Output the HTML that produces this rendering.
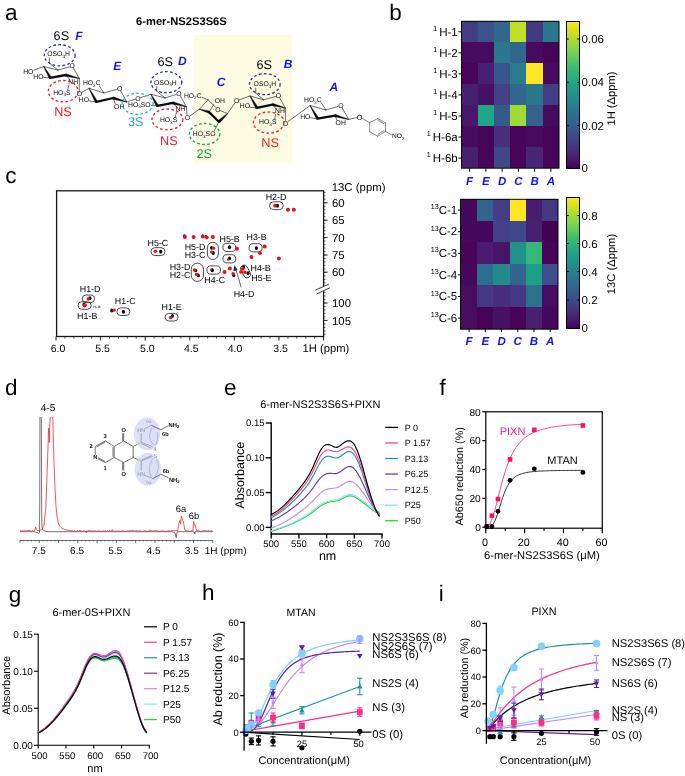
<!DOCTYPE html>
<html lang="en">
<head>
<meta charset="utf-8">
<title>6-mer-NS2S3S6S figure</title>
<style>
html,body{margin:0;padding:0;background:#fff;}
body{width:685px;height:776px;overflow:hidden;}
svg{display:block;font-family:'Liberation Sans', sans-serif;}
svg text{white-space:pre;text-rendering:geometricPrecision;}
</style>
</head>
<body>
<svg width="685" height="776" viewBox="0 0 685 776">
<rect x="0" y="0" width="685" height="776" fill="#fff"/>
<!-- panel_a -->
<g id="panel-a">
<rect x="193.5" y="35" width="99" height="128.5" fill="#fdfbe2"/>
<text x="5" y="19.7" font-size="22.5">a</text>
<text x="181.4" y="25.4" font-size="11.2" text-anchor="middle" font-weight="bold">6-mer-NS2S3S6S</text>
<line x1="58" y1="70.1" x2="69.32" y2="66.83" stroke="#0a0a0a" stroke-width="0.6" stroke-linecap="round"/>
<line x1="73.63" y1="68.52" x2="79.3" y2="78.5" stroke="#0a0a0a" stroke-width="0.6" stroke-linecap="round"/>
<line x1="43.8" y1="66.5" x2="58" y2="70.1" stroke="#0a0a0a" stroke-width="0.6" stroke-linecap="round"/>
<path d="M44.03 66.37 L51.43 77.15 L49.17 78.45 L43.57 66.63 Z" stroke="#0a0a0a" stroke-width="0.3" fill="#0a0a0a" stroke-linejoin="round"/>
<path d="M79.24 78.75 L65.38 76.26 L66.02 73.74 L79.36 78.25 Z" stroke="#0a0a0a" stroke-width="0.3" fill="#0a0a0a" stroke-linejoin="round"/>
<line x1="50.3" y1="77.8" x2="65.7" y2="75" stroke="#0a0a0a" stroke-width="2.3" stroke-linecap="round"/>
<text x="72.2" y="68.45" font-size="6.8" text-anchor="middle" fill="#0a0a0a">O</text>
<line x1="43.8" y1="66.5" x2="33.6" y2="70.2" stroke="#0a0a0a" stroke-width="0.6" stroke-linecap="round"/>
<text x="23.2" y="73.75" font-size="6.8" fill="#0a0a0a">HO</text>
<line x1="50.3" y1="77.8" x2="43.6" y2="77.4" stroke="#0a0a0a" stroke-width="0.6" stroke-linecap="round"/>
<text x="33.3" y="78.75" font-size="6.8" fill="#0a0a0a">HO</text>
<line x1="58" y1="70.1" x2="49.4" y2="63.2" stroke="#0a0a0a" stroke-width="0.6" stroke-linecap="round"/>
<line x1="49.4" y1="63.2" x2="49.4" y2="58" stroke="#0a0a0a" stroke-width="0.6" stroke-linecap="round"/>
<text x="47.3" y="56.25" font-size="6.8" fill="#0a0a0a">OSO<tspan font-size="4.62" dy="1.4">3</tspan><tspan dy="-1.4">H</tspan></text>
<line x1="65.7" y1="75" x2="69.3" y2="79" stroke="#0a0a0a" stroke-width="0.6" stroke-linecap="round"/>
<text x="68.3" y="83.85" font-size="6.8" fill="#0a0a0a">NH</text>
<line x1="69" y1="85" x2="67.6" y2="89.8" stroke="#0a0a0a" stroke-width="0.6" stroke-linecap="round"/>
<text x="53.2" y="94.75" font-size="6.8" fill="#0a0a0a">HO<tspan font-size="4.62" dy="1.4">3</tspan><tspan dy="-1.4">S</tspan></text>
<line x1="79.3" y1="78.5" x2="79.3" y2="91" stroke="#0a0a0a" stroke-width="0.6" stroke-linecap="round"/>
<text x="79.3" y="96.25" font-size="6.8" text-anchor="middle" fill="#0a0a0a">O</text>
<ellipse cx="59.7" cy="55.3" rx="15.4" ry="10.6" fill="none" stroke="#2b2fa0" stroke-width="1.3" stroke-dasharray="2.7 2.3"/>
<ellipse cx="63.2" cy="91.2" rx="14.8" ry="10.7" fill="none" stroke="#ee1c25" stroke-width="1.3" stroke-dasharray="2.7 2.3"/>
<text x="53.6" y="40.2" font-size="12.7">6S</text>
<text x="75.2" y="40.2" font-size="12" fill="#1414f0" font-weight="bold" font-style="italic">F</text>
<text x="63" y="115.7" font-size="12.7" text-anchor="middle" fill="#ee1c25">NS</text>
<line x1="81.74" y1="92.43" x2="89.1" y2="88.3" stroke="#0a0a0a" stroke-width="0.6" stroke-linecap="round"/>
<line x1="103.8" y1="92.9" x2="116.71" y2="89.39" stroke="#0a0a0a" stroke-width="0.6" stroke-linecap="round"/>
<line x1="120.97" y1="91.16" x2="126.7" y2="101.9" stroke="#0a0a0a" stroke-width="0.6" stroke-linecap="round"/>
<line x1="89.1" y1="88.3" x2="103.8" y2="92.9" stroke="#0a0a0a" stroke-width="0.6" stroke-linecap="round"/>
<path d="M89.33 88.18 L97.55 101.29 L95.25 102.51 L88.87 88.42 Z" stroke="#0a0a0a" stroke-width="0.3" fill="#0a0a0a" stroke-linejoin="round"/>
<path d="M126.63 102.15 L112.84 99.25 L113.56 96.75 L126.77 101.65 Z" stroke="#0a0a0a" stroke-width="0.3" fill="#0a0a0a" stroke-linejoin="round"/>
<line x1="96.4" y1="101.9" x2="113.2" y2="98" stroke="#0a0a0a" stroke-width="2.3" stroke-linecap="round"/>
<text x="119.6" y="91.05" font-size="6.8" text-anchor="middle" fill="#0a0a0a">O</text>
<line x1="103.8" y1="92.9" x2="99.4" y2="85.9" stroke="#0a0a0a" stroke-width="0.6" stroke-linecap="round"/>
<text x="82.9" y="85.25" font-size="6.8" fill="#0a0a0a">HO<tspan font-size="4.62" dy="1.4">2</tspan><tspan dy="-1.4">C</tspan></text>
<line x1="96.4" y1="101.9" x2="89.4" y2="101" stroke="#0a0a0a" stroke-width="0.6" stroke-linecap="round"/>
<text x="78.8" y="101.85" font-size="6.8" fill="#0a0a0a">HO</text>
<line x1="113.2" y1="98" x2="115.2" y2="103.6" stroke="#0a0a0a" stroke-width="0.6" stroke-linecap="round"/>
<text x="114.1" y="109.15" font-size="6.8" fill="#0a0a0a">OH</text>
<line x1="126.7" y1="101.9" x2="135.12" y2="99.32" stroke="#0a0a0a" stroke-width="0.6" stroke-linecap="round"/>
<text x="137.8" y="100.95" font-size="6.8" text-anchor="middle" fill="#0a0a0a">O</text>
<text x="113.2" y="69.7" font-size="12" fill="#1414f0" font-weight="bold" font-style="italic">E</text>
<line x1="140.47" y1="97.65" x2="150.9" y2="94.3" stroke="#0a0a0a" stroke-width="0.6" stroke-linecap="round"/>
<line x1="165.1" y1="97.9" x2="176.13" y2="94.49" stroke="#0a0a0a" stroke-width="0.6" stroke-linecap="round"/>
<line x1="180.43" y1="96.12" x2="186.3" y2="106.5" stroke="#0a0a0a" stroke-width="0.6" stroke-linecap="round"/>
<line x1="150.9" y1="94.3" x2="165.1" y2="97.9" stroke="#0a0a0a" stroke-width="0.6" stroke-linecap="round"/>
<path d="M151.13 94.17 L158.53 105.26 L156.27 106.54 L150.67 94.43 Z" stroke="#0a0a0a" stroke-width="0.3" fill="#0a0a0a" stroke-linejoin="round"/>
<path d="M186.23 106.75 L172.47 104.16 L173.13 101.64 L186.37 106.25 Z" stroke="#0a0a0a" stroke-width="0.3" fill="#0a0a0a" stroke-linejoin="round"/>
<line x1="157.4" y1="105.9" x2="172.8" y2="102.9" stroke="#0a0a0a" stroke-width="2.3" stroke-linecap="round"/>
<text x="179" y="96.05" font-size="6.8" text-anchor="middle" fill="#0a0a0a">O</text>
<line x1="165.1" y1="97.9" x2="156.7" y2="91.2" stroke="#0a0a0a" stroke-width="0.6" stroke-linecap="round"/>
<line x1="156.7" y1="91.2" x2="156.7" y2="86.2" stroke="#0a0a0a" stroke-width="0.6" stroke-linecap="round"/>
<text x="154.1" y="84.65" font-size="6.8" fill="#0a0a0a">OSO<tspan font-size="4.62" dy="1.4">3</tspan><tspan dy="-1.4">H</tspan></text>
<line x1="157.4" y1="105.9" x2="151.4" y2="105.4" stroke="#0a0a0a" stroke-width="0.6" stroke-linecap="round"/>
<text x="128" y="106.75" font-size="6.8" fill="#0a0a0a">HO<tspan font-size="4.62" dy="1.4">3</tspan><tspan dy="-1.4">S</tspan>O</text>
<line x1="172.8" y1="102.9" x2="176.6" y2="107" stroke="#0a0a0a" stroke-width="0.6" stroke-linecap="round"/>
<text x="175.4" y="111.25" font-size="6.8" fill="#0a0a0a">NH</text>
<line x1="176.4" y1="112.4" x2="175.1" y2="117.8" stroke="#0a0a0a" stroke-width="0.6" stroke-linecap="round"/>
<text x="159.9" y="122.15" font-size="6.8" fill="#0a0a0a">HO<tspan font-size="4.62" dy="1.4">3</tspan><tspan dy="-1.4">S</tspan></text>
<line x1="186.3" y1="106.5" x2="187.05" y2="115.01" stroke="#0a0a0a" stroke-width="0.6" stroke-linecap="round"/>
<text x="187.3" y="120.25" font-size="6.8" text-anchor="middle" fill="#0a0a0a">O</text>
<ellipse cx="166.4" cy="82.2" rx="15.4" ry="10.6" fill="none" stroke="#2b2fa0" stroke-width="1.3" stroke-dasharray="2.7 2.3"/>
<ellipse cx="137.6" cy="103.8" rx="15.5" ry="10.5" fill="none" stroke="#29abe2" stroke-width="1.3" stroke-dasharray="2.7 2.3"/>
<ellipse cx="167.4" cy="119.4" rx="15.4" ry="10.4" fill="none" stroke="#ee1c25" stroke-width="1.3" stroke-dasharray="2.7 2.3"/>
<text x="157.4" y="65.5" font-size="12.7">6S</text>
<text x="178" y="65" font-size="12" fill="#1414f0" font-weight="bold" font-style="italic">D</text>
<text x="135.8" y="125.6" font-size="12.7" text-anchor="middle" fill="#29abe2">3S</text>
<text x="168.8" y="144.6" font-size="12.7" text-anchor="middle" fill="#ee1c25">NS</text>
<line x1="189.58" y1="116.18" x2="199.4" y2="109.2" stroke="#0a0a0a" stroke-width="0.6" stroke-linecap="round"/>
<line x1="199.4" y1="109.2" x2="208.1" y2="99.8" stroke="#0a0a0a" stroke-width="0.6" stroke-linecap="round"/>
<line x1="202.2" y1="97.4" x2="208.1" y2="99.8" stroke="#0a0a0a" stroke-width="0.6" stroke-linecap="round"/>
<text x="183.9" y="97.95" font-size="6.8" fill="#0a0a0a">HO<tspan font-size="4.62" dy="1.4">2</tspan><tspan dy="-1.4">C</tspan></text>
<line x1="208.1" y1="99.8" x2="215.75" y2="107.45" stroke="#0a0a0a" stroke-width="0.6" stroke-linecap="round"/>
<line x1="220.56" y1="110.67" x2="227.5" y2="113.6" stroke="#0a0a0a" stroke-width="0.6" stroke-linecap="round"/>
<text x="217.8" y="111.95" font-size="6.8" text-anchor="middle" fill="#0a0a0a">O</text>
<path d="M199.47 108.97 L209.44 110.95 L208.76 113.25 L199.33 109.43 Z" stroke="#0a0a0a" stroke-width="0.3" fill="#0a0a0a" stroke-linejoin="round"/>
<line x1="209.1" y1="112.1" x2="218.8" y2="121.8" stroke="#0a0a0a" stroke-width="2.3" stroke-linecap="round"/>
<path d="M227.71 113.82 L219.83 122.89 L217.77 120.71 L227.29 113.38 Z" stroke="#0a0a0a" stroke-width="0.3" fill="#0a0a0a" stroke-linejoin="round"/>
<line x1="209.1" y1="112.1" x2="213.6" y2="104.6" stroke="#0a0a0a" stroke-width="0.6" stroke-linecap="round"/>
<text x="214.7" y="102.65" font-size="6.8" fill="#0a0a0a">OH</text>
<line x1="218.8" y1="121.8" x2="214.4" y2="130.6" stroke="#0a0a0a" stroke-width="0.6" stroke-linecap="round"/>
<text x="192.8" y="136.35" font-size="6.8" fill="#0a0a0a">HO<tspan font-size="4.62" dy="1.4">3</tspan><tspan dy="-1.4">S</tspan>O</text>
<line x1="227.5" y1="113.6" x2="234.93" y2="103.07" stroke="#0a0a0a" stroke-width="0.6" stroke-linecap="round"/>
<text x="236.6" y="103.15" font-size="6.8" text-anchor="middle" fill="#0a0a0a">O</text>
<ellipse cx="204.6" cy="134" rx="15.2" ry="10.5" fill="none" stroke="#0aa550" stroke-width="1.3" stroke-dasharray="2.7 2.3"/>
<text x="216.8" y="85.8" font-size="12" fill="#1414f0" font-weight="bold" font-style="italic">C</text>
<text x="204.3" y="158.1" font-size="12.7" text-anchor="middle" fill="#0aa550">2S</text>
<line x1="239.24" y1="99.78" x2="250.1" y2="96" stroke="#0a0a0a" stroke-width="0.6" stroke-linecap="round"/>
<line x1="263.6" y1="99.8" x2="275.61" y2="96.41" stroke="#0a0a0a" stroke-width="0.6" stroke-linecap="round"/>
<line x1="279.89" y1="98.15" x2="285.3" y2="108.1" stroke="#0a0a0a" stroke-width="0.6" stroke-linecap="round"/>
<line x1="250.1" y1="96" x2="263.6" y2="99.8" stroke="#0a0a0a" stroke-width="0.6" stroke-linecap="round"/>
<path d="M250.33 95.87 L258.03 107.15 L255.77 108.45 L249.87 96.13 Z" stroke="#0a0a0a" stroke-width="0.3" fill="#0a0a0a" stroke-linejoin="round"/>
<path d="M285.23 108.35 L272.06 105.85 L272.74 103.35 L285.37 107.85 Z" stroke="#0a0a0a" stroke-width="0.3" fill="#0a0a0a" stroke-linejoin="round"/>
<line x1="256.9" y1="107.8" x2="272.4" y2="104.6" stroke="#0a0a0a" stroke-width="2.3" stroke-linecap="round"/>
<text x="278.5" y="98.05" font-size="6.8" text-anchor="middle" fill="#0a0a0a">O</text>
<line x1="263.6" y1="99.8" x2="255.7" y2="93.1" stroke="#0a0a0a" stroke-width="0.6" stroke-linecap="round"/>
<line x1="255.7" y1="93.1" x2="255.7" y2="88" stroke="#0a0a0a" stroke-width="0.6" stroke-linecap="round"/>
<text x="253.6" y="86.15" font-size="6.8" fill="#0a0a0a">OSO<tspan font-size="4.62" dy="1.4">3</tspan><tspan dy="-1.4">H</tspan></text>
<line x1="256.9" y1="107.8" x2="250" y2="107.3" stroke="#0a0a0a" stroke-width="0.6" stroke-linecap="round"/>
<text x="239.8" y="108.35" font-size="6.8" fill="#0a0a0a">HO</text>
<line x1="272.4" y1="104.6" x2="276" y2="108.8" stroke="#0a0a0a" stroke-width="0.6" stroke-linecap="round"/>
<text x="275" y="113.45" font-size="6.8" fill="#0a0a0a">NH</text>
<line x1="275.6" y1="114.5" x2="274.6" y2="119.8" stroke="#0a0a0a" stroke-width="0.6" stroke-linecap="round"/>
<text x="259.1" y="124.15" font-size="6.8" fill="#0a0a0a">HO<tspan font-size="4.62" dy="1.4">3</tspan><tspan dy="-1.4">S</tspan></text>
<line x1="285.3" y1="108.1" x2="285.46" y2="120.5" stroke="#0a0a0a" stroke-width="0.6" stroke-linecap="round"/>
<text x="285.5" y="125.75" font-size="6.8" text-anchor="middle" fill="#0a0a0a">O</text>
<ellipse cx="264.8" cy="84.2" rx="15.3" ry="10.5" fill="none" stroke="#2b2fa0" stroke-width="1.3" stroke-dasharray="2.7 2.3"/>
<ellipse cx="268.7" cy="122.6" rx="15.3" ry="10.6" fill="none" stroke="#ee1c25" stroke-width="1.3" stroke-dasharray="2.7 2.3"/>
<text x="256.4" y="68.6" font-size="12.7">6S</text>
<text x="283.8" y="68" font-size="12" fill="#1414f0" font-weight="bold" font-style="italic">B</text>
<text x="270.1" y="147.2" font-size="12.7" text-anchor="middle" fill="#ee1c25">NS</text>
<line x1="287.77" y1="121.66" x2="310.1" y2="105.6" stroke="#0a0a0a" stroke-width="0.6" stroke-linecap="round"/>
<line x1="325.9" y1="109.9" x2="337.92" y2="106.43" stroke="#0a0a0a" stroke-width="0.6" stroke-linecap="round"/>
<line x1="342.24" y1="108.12" x2="348.7" y2="119.4" stroke="#0a0a0a" stroke-width="0.6" stroke-linecap="round"/>
<line x1="310.1" y1="105.6" x2="325.9" y2="109.9" stroke="#0a0a0a" stroke-width="0.6" stroke-linecap="round"/>
<path d="M310.32 105.47 L318.82 118.05 L316.58 119.35 L309.88 105.73 Z" stroke="#0a0a0a" stroke-width="0.3" fill="#0a0a0a" stroke-linejoin="round"/>
<path d="M348.63 119.65 L334.36 116.85 L335.04 114.35 L348.77 119.15 Z" stroke="#0a0a0a" stroke-width="0.3" fill="#0a0a0a" stroke-linejoin="round"/>
<line x1="317.7" y1="118.7" x2="334.7" y2="115.6" stroke="#0a0a0a" stroke-width="2.3" stroke-linecap="round"/>
<text x="340.8" y="108.05" font-size="6.8" text-anchor="middle" fill="#0a0a0a">O</text>
<line x1="325.9" y1="109.9" x2="321.2" y2="102.6" stroke="#0a0a0a" stroke-width="0.6" stroke-linecap="round"/>
<text x="304" y="102.25" font-size="6.8" fill="#0a0a0a">HO<tspan font-size="4.62" dy="1.4">2</tspan><tspan dy="-1.4">C</tspan></text>
<line x1="317.7" y1="118.7" x2="310.6" y2="117.8" stroke="#0a0a0a" stroke-width="0.6" stroke-linecap="round"/>
<text x="300.2" y="118.95" font-size="6.8" fill="#0a0a0a">HO</text>
<line x1="334.7" y1="115.6" x2="337.2" y2="120.6" stroke="#0a0a0a" stroke-width="0.6" stroke-linecap="round"/>
<text x="335.6" y="125.45" font-size="6.8" fill="#0a0a0a">OH</text>
<line x1="348.7" y1="119.4" x2="356.87" y2="117.62" stroke="#0a0a0a" stroke-width="0.6" stroke-linecap="round"/>
<text x="359.7" y="119.66" font-size="7.4" text-anchor="middle" fill="#0a0a0a">O</text>
<line x1="362.32" y1="118.47" x2="369.7" y2="122.6" stroke="#3a3a3a" stroke-width="0.6" stroke-linecap="round"/>
<line x1="369.7" y1="122.6" x2="377.6" y2="118.7" stroke="#3a3a3a" stroke-width="0.6" stroke-linecap="round"/>
<line x1="377.6" y1="118.7" x2="385.5" y2="122.9" stroke="#3a3a3a" stroke-width="0.6" stroke-linecap="round"/>
<line x1="385.5" y1="122.9" x2="385.5" y2="131.3" stroke="#3a3a3a" stroke-width="0.6" stroke-linecap="round"/>
<line x1="385.5" y1="131.3" x2="377.6" y2="136.2" stroke="#3a3a3a" stroke-width="0.6" stroke-linecap="round"/>
<line x1="377.6" y1="136.2" x2="369.7" y2="131.7" stroke="#3a3a3a" stroke-width="0.6" stroke-linecap="round"/>
<line x1="369.7" y1="131.7" x2="369.7" y2="122.6" stroke="#3a3a3a" stroke-width="0.6" stroke-linecap="round"/>
<line x1="378" y1="120.4" x2="384" y2="123.7" stroke="#3a3a3a" stroke-width="0.6" stroke-linecap="round"/>
<line x1="384" y1="130.5" x2="378" y2="134.4" stroke="#3a3a3a" stroke-width="0.6" stroke-linecap="round"/>
<line x1="385.5" y1="131.3" x2="391.4" y2="134.8" stroke="#3a3a3a" stroke-width="0.6" stroke-linecap="round"/>
<text x="392.1" y="138.45" font-size="6.6" fill="#0a0a0a">NO<tspan font-size="4.49" dy="1.4">2</tspan></text>
<text x="329.6" y="91.1" font-size="12" fill="#1414f0" font-weight="bold" font-style="italic">A</text>
</g>
<!-- panel_b -->
<g id="panel-b">
<rect x="462" y="21" width="16" height="21" fill="#433d84"/>
<rect x="478" y="21" width="16" height="21" fill="#3b528b"/>
<rect x="494" y="21" width="16" height="21" fill="#31668e"/>
<rect x="510" y="21" width="16" height="21" fill="#c0df25"/>
<rect x="526" y="21" width="17" height="21" fill="#453882"/>
<rect x="543" y="21" width="16" height="21" fill="#2a788e"/>
<rect x="462" y="42" width="16" height="21" fill="#460b5e"/>
<rect x="478" y="42" width="16" height="21" fill="#460b5e"/>
<rect x="494" y="42" width="16" height="21" fill="#2a788e"/>
<rect x="510" y="42" width="16" height="21" fill="#31668e"/>
<rect x="526" y="42" width="17" height="21" fill="#460b5e"/>
<rect x="543" y="42" width="16" height="21" fill="#450559"/>
<rect x="462" y="63" width="16" height="21" fill="#450559"/>
<rect x="478" y="63" width="16" height="21" fill="#482071"/>
<rect x="494" y="63" width="16" height="21" fill="#39568c"/>
<rect x="510" y="63" width="16" height="21" fill="#287c8e"/>
<rect x="526" y="63" width="17" height="21" fill="#fde725"/>
<rect x="543" y="63" width="16" height="21" fill="#460b5e"/>
<rect x="462" y="84" width="16" height="21" fill="#482071"/>
<rect x="478" y="84" width="16" height="21" fill="#471164"/>
<rect x="494" y="84" width="16" height="21" fill="#424186"/>
<rect x="510" y="84" width="16" height="21" fill="#31668e"/>
<rect x="526" y="84" width="17" height="21" fill="#2a788e"/>
<rect x="543" y="84" width="16" height="21" fill="#433d84"/>
<rect x="462" y="105" width="16" height="21" fill="#481769"/>
<rect x="478" y="105" width="16" height="21" fill="#21a685"/>
<rect x="494" y="105" width="16" height="21" fill="#375a8c"/>
<rect x="510" y="105" width="16" height="21" fill="#a0da39"/>
<rect x="526" y="105" width="17" height="21" fill="#33628d"/>
<rect x="543" y="105" width="16" height="21" fill="#460b5e"/>
<rect x="462" y="126" width="16" height="21" fill="#460b5e"/>
<rect x="478" y="126" width="16" height="21" fill="#450559"/>
<rect x="494" y="126" width="16" height="21" fill="#472f7d"/>
<rect x="510" y="126" width="16" height="21" fill="#450559"/>
<rect x="526" y="126" width="17" height="21" fill="#460b5e"/>
<rect x="543" y="126" width="16" height="21" fill="#450559"/>
<rect x="462" y="147" width="16" height="21" fill="#482071"/>
<rect x="478" y="147" width="16" height="21" fill="#450559"/>
<rect x="494" y="147" width="16" height="21" fill="#404688"/>
<rect x="510" y="147" width="16" height="21" fill="#450559"/>
<rect x="526" y="147" width="17" height="21" fill="#482576"/>
<rect x="543" y="147" width="16" height="21" fill="#450559"/>
<rect x="461.5" y="21.3" width="97.5" height="146.9" fill="none" stroke="#000" stroke-width="1"/>
<line x1="458.5" y1="31.82" x2="461.5" y2="31.82" stroke="#000" stroke-width="1"/>
<text x="457.7" y="35.52" font-size="11.5" text-anchor="end"><tspan font-size="7.2" dy="-4.6">1 </tspan><tspan dy="4.6">H-1</tspan></text>
<line x1="458.5" y1="52.86" x2="461.5" y2="52.86" stroke="#000" stroke-width="1"/>
<text x="457.7" y="56.56" font-size="11.5" text-anchor="end"><tspan font-size="7.2" dy="-4.6">1 </tspan><tspan dy="4.6">H-2</tspan></text>
<line x1="458.5" y1="73.91" x2="461.5" y2="73.91" stroke="#000" stroke-width="1"/>
<text x="457.7" y="77.61" font-size="11.5" text-anchor="end"><tspan font-size="7.2" dy="-4.6">1 </tspan><tspan dy="4.6">H-3</tspan></text>
<line x1="458.5" y1="94.95" x2="461.5" y2="94.95" stroke="#000" stroke-width="1"/>
<text x="457.7" y="98.65" font-size="11.5" text-anchor="end"><tspan font-size="7.2" dy="-4.6">1 </tspan><tspan dy="4.6">H-4</tspan></text>
<line x1="458.5" y1="115.99" x2="461.5" y2="115.99" stroke="#000" stroke-width="1"/>
<text x="457.7" y="119.69" font-size="11.5" text-anchor="end"><tspan font-size="7.2" dy="-4.6">1 </tspan><tspan dy="4.6">H-5</tspan></text>
<line x1="458.5" y1="137.04" x2="461.5" y2="137.04" stroke="#000" stroke-width="1"/>
<text x="457.7" y="140.74" font-size="11.5" text-anchor="end"><tspan font-size="7.2" dy="-4.6">1 </tspan><tspan dy="4.6">H-6a</tspan></text>
<line x1="458.5" y1="158.08" x2="461.5" y2="158.08" stroke="#000" stroke-width="1"/>
<text x="457.7" y="161.78" font-size="11.5" text-anchor="end"><tspan font-size="7.2" dy="-4.6">1 </tspan><tspan dy="4.6">H-6b</tspan></text>
<line x1="469.62" y1="168.3" x2="469.62" y2="171.8" stroke="#000" stroke-width="1"/>
<text x="469.62" y="184.9" font-size="11.5" text-anchor="middle" fill="#1414f0" font-weight="bold" font-style="italic">F</text>
<line x1="485.88" y1="168.3" x2="485.88" y2="171.8" stroke="#000" stroke-width="1"/>
<text x="485.88" y="184.9" font-size="11.5" text-anchor="middle" fill="#1414f0" font-weight="bold" font-style="italic">E</text>
<line x1="502.12" y1="168.3" x2="502.12" y2="171.8" stroke="#000" stroke-width="1"/>
<text x="502.12" y="184.9" font-size="11.5" text-anchor="middle" fill="#1414f0" font-weight="bold" font-style="italic">D</text>
<line x1="518.38" y1="168.3" x2="518.38" y2="171.8" stroke="#000" stroke-width="1"/>
<text x="518.38" y="184.9" font-size="11.5" text-anchor="middle" fill="#1414f0" font-weight="bold" font-style="italic">C</text>
<line x1="534.62" y1="168.3" x2="534.62" y2="171.8" stroke="#000" stroke-width="1"/>
<text x="534.62" y="184.9" font-size="11.5" text-anchor="middle" fill="#1414f0" font-weight="bold" font-style="italic">B</text>
<line x1="550.88" y1="168.3" x2="550.88" y2="171.8" stroke="#000" stroke-width="1"/>
<text x="550.88" y="184.9" font-size="11.5" text-anchor="middle" fill="#1414f0" font-weight="bold" font-style="italic">A</text>
<defs><linearGradient id="g21" x1="0" y1="0" x2="0" y2="1"><stop offset="0" stop-color="#fde725"/><stop offset="0.06" stop-color="#d8e219"/><stop offset="0.12" stop-color="#addc30"/><stop offset="0.19" stop-color="#84d44b"/><stop offset="0.25" stop-color="#5ec962"/><stop offset="0.31" stop-color="#3fbc73"/><stop offset="0.38" stop-color="#28ae80"/><stop offset="0.44" stop-color="#1fa088"/><stop offset="0.5" stop-color="#21918c"/><stop offset="0.56" stop-color="#26828e"/><stop offset="0.62" stop-color="#2c728e"/><stop offset="0.69" stop-color="#33638d"/><stop offset="0.75" stop-color="#3b528b"/><stop offset="0.81" stop-color="#424086"/><stop offset="0.88" stop-color="#472d7b"/><stop offset="0.94" stop-color="#48186a"/><stop offset="1" stop-color="#440154"/></linearGradient></defs>
<rect x="566.5" y="21.5" width="13" height="147" fill="url(#g21)" stroke="#000" stroke-width="1"/>
<line x1="566.5" y1="39" x2="568.7" y2="39" stroke="#000" stroke-width="1"/>
<line x1="577.3" y1="39" x2="579.5" y2="39" stroke="#000" stroke-width="1"/>
<text x="581.6" y="43.1" font-size="11.5">0.06</text>
<line x1="566.5" y1="82.3" x2="568.7" y2="82.3" stroke="#000" stroke-width="1"/>
<line x1="577.3" y1="82.3" x2="579.5" y2="82.3" stroke="#000" stroke-width="1"/>
<text x="581.6" y="86.4" font-size="11.5">0.04</text>
<line x1="566.5" y1="125.6" x2="568.7" y2="125.6" stroke="#000" stroke-width="1"/>
<line x1="577.3" y1="125.6" x2="579.5" y2="125.6" stroke="#000" stroke-width="1"/>
<text x="581.6" y="129.7" font-size="11.5">0.02</text>
<line x1="566.5" y1="167.9" x2="568.7" y2="167.9" stroke="#000" stroke-width="1"/>
<line x1="577.3" y1="167.9" x2="579.5" y2="167.9" stroke="#000" stroke-width="1"/>
<text x="581.6" y="172" font-size="11.5">0</text>
<text x="614.8" y="98.5" font-size="11.2" text-anchor="middle" transform="rotate(-90 614.8 98.5)">1H (Δppm)</text>
<rect x="461" y="199" width="16" height="22" fill="#46085c"/>
<rect x="477" y="199" width="16" height="22" fill="#32658e"/>
<rect x="493" y="199" width="17" height="22" fill="#433e85"/>
<rect x="510" y="199" width="16" height="22" fill="#fde725"/>
<rect x="526" y="199" width="16" height="22" fill="#481c6e"/>
<rect x="542" y="199" width="16" height="22" fill="#453882"/>
<rect x="461" y="221" width="16" height="21" fill="#46085c"/>
<rect x="477" y="221" width="16" height="21" fill="#46085c"/>
<rect x="493" y="221" width="17" height="21" fill="#424186"/>
<rect x="510" y="221" width="16" height="21" fill="#3f4889"/>
<rect x="526" y="221" width="16" height="21" fill="#482071"/>
<rect x="542" y="221" width="16" height="21" fill="#440154"/>
<rect x="461" y="242" width="16" height="22" fill="#450457"/>
<rect x="477" y="242" width="16" height="22" fill="#481c6e"/>
<rect x="493" y="242" width="17" height="22" fill="#481467"/>
<rect x="510" y="242" width="16" height="22" fill="#20928c"/>
<rect x="526" y="242" width="16" height="22" fill="#35b779"/>
<rect x="542" y="242" width="16" height="22" fill="#450457"/>
<rect x="461" y="264" width="16" height="21" fill="#46085c"/>
<rect x="477" y="264" width="16" height="21" fill="#2e6d8e"/>
<rect x="493" y="264" width="17" height="21" fill="#228c8d"/>
<rect x="510" y="264" width="16" height="21" fill="#32658e"/>
<rect x="526" y="264" width="16" height="21" fill="#1f9f88"/>
<rect x="542" y="264" width="16" height="21" fill="#3d4e8a"/>
<rect x="461" y="285" width="16" height="22" fill="#470d60"/>
<rect x="477" y="285" width="16" height="22" fill="#453882"/>
<rect x="493" y="285" width="17" height="22" fill="#472e7c"/>
<rect x="510" y="285" width="16" height="22" fill="#453882"/>
<rect x="526" y="285" width="16" height="22" fill="#2c728e"/>
<rect x="542" y="285" width="16" height="22" fill="#470d60"/>
<rect x="461" y="307" width="16" height="22" fill="#470d60"/>
<rect x="477" y="307" width="16" height="22" fill="#450457"/>
<rect x="493" y="307" width="17" height="22" fill="#471164"/>
<rect x="510" y="307" width="16" height="22" fill="#450457"/>
<rect x="526" y="307" width="16" height="22" fill="#482071"/>
<rect x="542" y="307" width="16" height="22" fill="#46085c"/>
<rect x="460.5" y="199.3" width="97.5" height="129.9" fill="none" stroke="#000" stroke-width="1"/>
<line x1="458" y1="210.1" x2="461" y2="210.1" stroke="#000" stroke-width="1"/>
<text x="457.2" y="213.8" font-size="11.5" text-anchor="end"><tspan font-size="7.2" dy="-4.6">13</tspan><tspan dy="4.6">C-1</tspan></text>
<line x1="458" y1="231.7" x2="461" y2="231.7" stroke="#000" stroke-width="1"/>
<text x="457.2" y="235.4" font-size="11.5" text-anchor="end"><tspan font-size="7.2" dy="-4.6">13</tspan><tspan dy="4.6">C-2</tspan></text>
<line x1="458" y1="253.3" x2="461" y2="253.3" stroke="#000" stroke-width="1"/>
<text x="457.2" y="257" font-size="11.5" text-anchor="end"><tspan font-size="7.2" dy="-4.6">13</tspan><tspan dy="4.6">C-3</tspan></text>
<line x1="458" y1="274.9" x2="461" y2="274.9" stroke="#000" stroke-width="1"/>
<text x="457.2" y="278.6" font-size="11.5" text-anchor="end"><tspan font-size="7.2" dy="-4.6">13</tspan><tspan dy="4.6">C-4</tspan></text>
<line x1="458" y1="296.5" x2="461" y2="296.5" stroke="#000" stroke-width="1"/>
<text x="457.2" y="300.2" font-size="11.5" text-anchor="end"><tspan font-size="7.2" dy="-4.6">13</tspan><tspan dy="4.6">C-5</tspan></text>
<line x1="458" y1="318.1" x2="461" y2="318.1" stroke="#000" stroke-width="1"/>
<text x="457.2" y="321.8" font-size="11.5" text-anchor="end"><tspan font-size="7.2" dy="-4.6">13</tspan><tspan dy="4.6">C-6</tspan></text>
<line x1="469.11" y1="328.6" x2="469.11" y2="332.1" stroke="#000" stroke-width="1"/>
<text x="469.11" y="345" font-size="11.5" text-anchor="middle" fill="#1414f0" font-weight="bold" font-style="italic">F</text>
<line x1="485.32" y1="328.6" x2="485.32" y2="332.1" stroke="#000" stroke-width="1"/>
<text x="485.32" y="345" font-size="11.5" text-anchor="middle" fill="#1414f0" font-weight="bold" font-style="italic">E</text>
<line x1="501.54" y1="328.6" x2="501.54" y2="332.1" stroke="#000" stroke-width="1"/>
<text x="501.54" y="345" font-size="11.5" text-anchor="middle" fill="#1414f0" font-weight="bold" font-style="italic">D</text>
<line x1="517.76" y1="328.6" x2="517.76" y2="332.1" stroke="#000" stroke-width="1"/>
<text x="517.76" y="345" font-size="11.5" text-anchor="middle" fill="#1414f0" font-weight="bold" font-style="italic">C</text>
<line x1="533.97" y1="328.6" x2="533.97" y2="332.1" stroke="#000" stroke-width="1"/>
<text x="533.97" y="345" font-size="11.5" text-anchor="middle" fill="#1414f0" font-weight="bold" font-style="italic">B</text>
<line x1="550.19" y1="328.6" x2="550.19" y2="332.1" stroke="#000" stroke-width="1"/>
<text x="550.19" y="345" font-size="11.5" text-anchor="middle" fill="#1414f0" font-weight="bold" font-style="italic">A</text>
<defs><linearGradient id="g199" x1="0" y1="0" x2="0" y2="1"><stop offset="0" stop-color="#fde725"/><stop offset="0.06" stop-color="#d8e219"/><stop offset="0.12" stop-color="#addc30"/><stop offset="0.19" stop-color="#84d44b"/><stop offset="0.25" stop-color="#5ec962"/><stop offset="0.31" stop-color="#3fbc73"/><stop offset="0.38" stop-color="#28ae80"/><stop offset="0.44" stop-color="#1fa088"/><stop offset="0.5" stop-color="#21918c"/><stop offset="0.56" stop-color="#26828e"/><stop offset="0.62" stop-color="#2c728e"/><stop offset="0.69" stop-color="#33638d"/><stop offset="0.75" stop-color="#3b528b"/><stop offset="0.81" stop-color="#424086"/><stop offset="0.88" stop-color="#472d7b"/><stop offset="0.94" stop-color="#48186a"/><stop offset="1" stop-color="#440154"/></linearGradient></defs>
<rect x="566.5" y="197.5" width="13" height="131" fill="url(#g199)" stroke="#000" stroke-width="1"/>
<line x1="566.5" y1="215.6" x2="568.7" y2="215.6" stroke="#000" stroke-width="1"/>
<line x1="577.3" y1="215.6" x2="579.5" y2="215.6" stroke="#000" stroke-width="1"/>
<text x="581.6" y="219.7" font-size="11.5">0.8</text>
<line x1="566.5" y1="243.6" x2="568.7" y2="243.6" stroke="#000" stroke-width="1"/>
<line x1="577.3" y1="243.6" x2="579.5" y2="243.6" stroke="#000" stroke-width="1"/>
<text x="581.6" y="247.7" font-size="11.5">0.6</text>
<line x1="566.5" y1="271.6" x2="568.7" y2="271.6" stroke="#000" stroke-width="1"/>
<line x1="577.3" y1="271.6" x2="579.5" y2="271.6" stroke="#000" stroke-width="1"/>
<text x="581.6" y="275.7" font-size="11.5">0.4</text>
<line x1="566.5" y1="300" x2="568.7" y2="300" stroke="#000" stroke-width="1"/>
<line x1="577.3" y1="300" x2="579.5" y2="300" stroke="#000" stroke-width="1"/>
<text x="581.6" y="304.1" font-size="11.5">0.2</text>
<line x1="566.5" y1="328" x2="568.7" y2="328" stroke="#000" stroke-width="1"/>
<line x1="577.3" y1="328" x2="579.5" y2="328" stroke="#000" stroke-width="1"/>
<text x="581.6" y="332.1" font-size="11.5">0</text>
<text x="614.8" y="264" font-size="11.2" text-anchor="middle" transform="rotate(-90 614.8 264)">13C (Δppm)</text>
<text x="389.2" y="20" font-size="22.5">b</text>
</g>
<!-- panel_c -->
<g id="panel-c">
<rect x="56.6" y="190.8" width="267" height="145.7" fill="none" stroke="#161616" stroke-width="1.3"/>
<line x1="323.6" y1="336.5" x2="323.6" y2="340.5" stroke="#222" stroke-width="1"/>
<line x1="314.68" y1="336.5" x2="314.68" y2="338.5" stroke="#222" stroke-width="0.8"/>
<line x1="305.76" y1="336.5" x2="305.76" y2="338.5" stroke="#222" stroke-width="0.8"/>
<line x1="296.84" y1="336.5" x2="296.84" y2="338.5" stroke="#222" stroke-width="0.8"/>
<line x1="287.92" y1="336.5" x2="287.92" y2="338.5" stroke="#222" stroke-width="0.8"/>
<line x1="279" y1="336.5" x2="279" y2="340.5" stroke="#222" stroke-width="1"/>
<line x1="270.08" y1="336.5" x2="270.08" y2="338.5" stroke="#222" stroke-width="0.8"/>
<line x1="261.16" y1="336.5" x2="261.16" y2="338.5" stroke="#222" stroke-width="0.8"/>
<line x1="252.24" y1="336.5" x2="252.24" y2="338.5" stroke="#222" stroke-width="0.8"/>
<line x1="243.32" y1="336.5" x2="243.32" y2="338.5" stroke="#222" stroke-width="0.8"/>
<line x1="234.4" y1="336.5" x2="234.4" y2="340.5" stroke="#222" stroke-width="1"/>
<line x1="225.48" y1="336.5" x2="225.48" y2="338.5" stroke="#222" stroke-width="0.8"/>
<line x1="216.56" y1="336.5" x2="216.56" y2="338.5" stroke="#222" stroke-width="0.8"/>
<line x1="207.64" y1="336.5" x2="207.64" y2="338.5" stroke="#222" stroke-width="0.8"/>
<line x1="198.72" y1="336.5" x2="198.72" y2="338.5" stroke="#222" stroke-width="0.8"/>
<line x1="189.8" y1="336.5" x2="189.8" y2="340.5" stroke="#222" stroke-width="1"/>
<line x1="180.88" y1="336.5" x2="180.88" y2="338.5" stroke="#222" stroke-width="0.8"/>
<line x1="171.96" y1="336.5" x2="171.96" y2="338.5" stroke="#222" stroke-width="0.8"/>
<line x1="163.04" y1="336.5" x2="163.04" y2="338.5" stroke="#222" stroke-width="0.8"/>
<line x1="154.12" y1="336.5" x2="154.12" y2="338.5" stroke="#222" stroke-width="0.8"/>
<line x1="145.2" y1="336.5" x2="145.2" y2="340.5" stroke="#222" stroke-width="1"/>
<line x1="136.28" y1="336.5" x2="136.28" y2="338.5" stroke="#222" stroke-width="0.8"/>
<line x1="127.36" y1="336.5" x2="127.36" y2="338.5" stroke="#222" stroke-width="0.8"/>
<line x1="118.44" y1="336.5" x2="118.44" y2="338.5" stroke="#222" stroke-width="0.8"/>
<line x1="109.52" y1="336.5" x2="109.52" y2="338.5" stroke="#222" stroke-width="0.8"/>
<line x1="100.6" y1="336.5" x2="100.6" y2="340.5" stroke="#222" stroke-width="1"/>
<line x1="91.68" y1="336.5" x2="91.68" y2="338.5" stroke="#222" stroke-width="0.8"/>
<line x1="82.76" y1="336.5" x2="82.76" y2="338.5" stroke="#222" stroke-width="0.8"/>
<line x1="73.84" y1="336.5" x2="73.84" y2="338.5" stroke="#222" stroke-width="0.8"/>
<line x1="64.92" y1="336.5" x2="64.92" y2="338.5" stroke="#222" stroke-width="0.8"/>
<line x1="56" y1="336.5" x2="56" y2="340.5" stroke="#222" stroke-width="1"/>
<text x="58" y="351.6" font-size="10.5" text-anchor="middle">6.0</text>
<text x="102.5" y="351.6" font-size="10.5" text-anchor="middle">5.5</text>
<text x="147.4" y="351.6" font-size="10.5" text-anchor="middle">5.0</text>
<text x="191.2" y="351.6" font-size="10.5" text-anchor="middle">4.5</text>
<text x="235" y="351.6" font-size="10.5" text-anchor="middle">4.0</text>
<text x="280.6" y="351.6" font-size="10.5" text-anchor="middle">3.5</text>
<text x="302.6" y="351.6" font-size="11.2">1H (ppm)</text>
<line x1="323.6" y1="202.8" x2="327.6" y2="202.8" stroke="#222" stroke-width="1"/>
<text x="332" y="206.9" font-size="11.4">60</text>
<line x1="323.6" y1="220.2" x2="327.6" y2="220.2" stroke="#222" stroke-width="1"/>
<text x="332" y="224.3" font-size="11.4">65</text>
<line x1="323.6" y1="237.6" x2="327.6" y2="237.6" stroke="#222" stroke-width="1"/>
<text x="332" y="241.7" font-size="11.4">70</text>
<line x1="323.6" y1="255" x2="327.6" y2="255" stroke="#222" stroke-width="1"/>
<text x="332" y="259.1" font-size="11.4">75</text>
<line x1="323.6" y1="272.2" x2="327.6" y2="272.2" stroke="#222" stroke-width="1"/>
<text x="332" y="276.3" font-size="11.4">60</text>
<line x1="323.6" y1="303" x2="327.6" y2="303" stroke="#222" stroke-width="1"/>
<text x="332" y="307.1" font-size="11.4">100</text>
<line x1="323.6" y1="320.4" x2="327.6" y2="320.4" stroke="#222" stroke-width="1"/>
<text x="332" y="324.5" font-size="11.4">105</text>
<line x1="323.6" y1="192.36" x2="325.6" y2="192.36" stroke="#222" stroke-width="0.7"/>
<line x1="323.6" y1="195.84" x2="325.6" y2="195.84" stroke="#222" stroke-width="0.7"/>
<line x1="323.6" y1="199.32" x2="325.6" y2="199.32" stroke="#222" stroke-width="0.7"/>
<line x1="323.6" y1="202.8" x2="325.6" y2="202.8" stroke="#222" stroke-width="0.7"/>
<line x1="323.6" y1="206.28" x2="325.6" y2="206.28" stroke="#222" stroke-width="0.7"/>
<line x1="323.6" y1="209.76" x2="325.6" y2="209.76" stroke="#222" stroke-width="0.7"/>
<line x1="323.6" y1="213.24" x2="325.6" y2="213.24" stroke="#222" stroke-width="0.7"/>
<line x1="323.6" y1="216.72" x2="325.6" y2="216.72" stroke="#222" stroke-width="0.7"/>
<line x1="323.6" y1="220.2" x2="325.6" y2="220.2" stroke="#222" stroke-width="0.7"/>
<line x1="323.6" y1="223.68" x2="325.6" y2="223.68" stroke="#222" stroke-width="0.7"/>
<line x1="323.6" y1="227.16" x2="325.6" y2="227.16" stroke="#222" stroke-width="0.7"/>
<line x1="323.6" y1="230.64" x2="325.6" y2="230.64" stroke="#222" stroke-width="0.7"/>
<line x1="323.6" y1="234.12" x2="325.6" y2="234.12" stroke="#222" stroke-width="0.7"/>
<line x1="323.6" y1="237.6" x2="325.6" y2="237.6" stroke="#222" stroke-width="0.7"/>
<line x1="323.6" y1="241.08" x2="325.6" y2="241.08" stroke="#222" stroke-width="0.7"/>
<line x1="323.6" y1="244.56" x2="325.6" y2="244.56" stroke="#222" stroke-width="0.7"/>
<line x1="323.6" y1="248.04" x2="325.6" y2="248.04" stroke="#222" stroke-width="0.7"/>
<line x1="323.6" y1="251.52" x2="325.6" y2="251.52" stroke="#222" stroke-width="0.7"/>
<line x1="323.6" y1="255" x2="325.6" y2="255" stroke="#222" stroke-width="0.7"/>
<line x1="323.6" y1="258.48" x2="325.6" y2="258.48" stroke="#222" stroke-width="0.7"/>
<line x1="323.6" y1="261.96" x2="325.6" y2="261.96" stroke="#222" stroke-width="0.7"/>
<line x1="323.6" y1="265.44" x2="325.6" y2="265.44" stroke="#222" stroke-width="0.7"/>
<line x1="323.6" y1="268.92" x2="325.6" y2="268.92" stroke="#222" stroke-width="0.7"/>
<line x1="323.6" y1="272.4" x2="325.6" y2="272.4" stroke="#222" stroke-width="0.7"/>
<line x1="323.6" y1="275.88" x2="325.6" y2="275.88" stroke="#222" stroke-width="0.7"/>
<line x1="323.6" y1="279.36" x2="325.6" y2="279.36" stroke="#222" stroke-width="0.7"/>
<line x1="323.6" y1="282.84" x2="325.6" y2="282.84" stroke="#222" stroke-width="0.7"/>
<line x1="323.6" y1="292.56" x2="325.6" y2="292.56" stroke="#222" stroke-width="0.7"/>
<line x1="323.6" y1="296.04" x2="325.6" y2="296.04" stroke="#222" stroke-width="0.7"/>
<line x1="323.6" y1="299.52" x2="325.6" y2="299.52" stroke="#222" stroke-width="0.7"/>
<line x1="323.6" y1="303" x2="325.6" y2="303" stroke="#222" stroke-width="0.7"/>
<line x1="323.6" y1="306.48" x2="325.6" y2="306.48" stroke="#222" stroke-width="0.7"/>
<line x1="323.6" y1="309.96" x2="325.6" y2="309.96" stroke="#222" stroke-width="0.7"/>
<line x1="323.6" y1="313.44" x2="325.6" y2="313.44" stroke="#222" stroke-width="0.7"/>
<line x1="323.6" y1="316.92" x2="325.6" y2="316.92" stroke="#222" stroke-width="0.7"/>
<line x1="323.6" y1="320.4" x2="325.6" y2="320.4" stroke="#222" stroke-width="0.7"/>
<line x1="323.6" y1="323.88" x2="325.6" y2="323.88" stroke="#222" stroke-width="0.7"/>
<line x1="323.6" y1="327.36" x2="325.6" y2="327.36" stroke="#222" stroke-width="0.7"/>
<line x1="323.6" y1="330.84" x2="325.6" y2="330.84" stroke="#222" stroke-width="0.7"/>
<line x1="323.6" y1="334.32" x2="325.6" y2="334.32" stroke="#222" stroke-width="0.7"/>
<rect x="320.6" y="286.2" width="6" height="5" fill="#fff"/>
<line x1="315.4" y1="290.2" x2="329" y2="284" stroke="#222" stroke-width="0.9"/>
<line x1="316.4" y1="294" x2="329.8" y2="287.9" stroke="#222" stroke-width="0.9"/>
<text x="331.7" y="191.3" font-size="11.4">13C (ppm)</text>
<rect x="269.55" y="201.75" width="13.7" height="7.9" rx="3.95" fill="none" stroke="#222" stroke-width="0.8"/>
<rect x="151" y="247.65" width="14" height="7.9" rx="3.95" fill="none" stroke="#222" stroke-width="0.8"/>
<rect x="207.4" y="242.3" width="11" height="17.2" rx="5.5" fill="none" stroke="#222" stroke-width="0.8"/>
<rect x="222.9" y="243.3" width="12.8" height="8.2" rx="4.1" fill="none" stroke="#222" stroke-width="0.8"/>
<rect x="222.9" y="254.7" width="12.8" height="8.2" rx="4.1" fill="none" stroke="#222" stroke-width="0.8"/>
<rect x="249.05" y="243.7" width="13.1" height="8.2" rx="4.1" fill="none" stroke="#222" stroke-width="0.8"/>
<rect x="191.25" y="263.2" width="12.3" height="18.2" rx="6.15" fill="none" stroke="#222" stroke-width="0.8"/>
<rect x="206.85" y="265.9" width="13.7" height="8.2" rx="4.1" fill="none" stroke="#222" stroke-width="0.8"/>
<rect x="242.1" y="264.75" width="7" height="13.5" rx="3.5" fill="none" stroke="#222" stroke-width="0.8" transform="rotate(-28 245.6 271.5)"/>
<rect x="82.25" y="295" width="12.3" height="7.6" rx="3.8" fill="none" stroke="#222" stroke-width="0.8"/>
<rect x="78.05" y="301.7" width="13.1" height="7.6" rx="3.8" fill="none" stroke="#222" stroke-width="0.8"/>
<rect x="116.85" y="307.9" width="13.1" height="7.6" rx="3.8" fill="none" stroke="#222" stroke-width="0.8"/>
<rect x="165.1" y="313.4" width="13" height="7.6" rx="3.8" fill="none" stroke="#222" stroke-width="0.8"/>
<ellipse cx="277.4" cy="205.7" rx="1.61" ry="1.95" fill="#000" stroke="none" stroke-width="0"/>
<ellipse cx="160.7" cy="251.8" rx="1.61" ry="1.95" fill="#000" stroke="none" stroke-width="0"/>
<ellipse cx="211.5" cy="247.8" rx="1.52" ry="1.84" fill="#000" stroke="none" stroke-width="0"/>
<ellipse cx="213.2" cy="253" rx="1.61" ry="1.95" fill="#000" stroke="none" stroke-width="0"/>
<ellipse cx="229.5" cy="247.2" rx="1.61" ry="1.95" fill="#000" stroke="none" stroke-width="0"/>
<ellipse cx="229.5" cy="258.3" rx="1.52" ry="1.84" fill="#000" stroke="none" stroke-width="0"/>
<ellipse cx="256.4" cy="248.1" rx="1.61" ry="1.95" fill="#000" stroke="none" stroke-width="0"/>
<ellipse cx="195.7" cy="270.5" rx="1.52" ry="1.84" fill="#000" stroke="none" stroke-width="0"/>
<ellipse cx="198.3" cy="275.4" rx="1.52" ry="1.84" fill="#000" stroke="none" stroke-width="0"/>
<ellipse cx="212.3" cy="270.2" rx="1.61" ry="1.95" fill="#000" stroke="none" stroke-width="0"/>
<ellipse cx="233.7" cy="275.2" rx="1.52" ry="1.84" fill="#000" stroke="none" stroke-width="0"/>
<ellipse cx="243.6" cy="267" rx="1.52" ry="1.84" fill="#000" stroke="none" stroke-width="0"/>
<ellipse cx="248" cy="273.2" rx="1.52" ry="1.84" fill="#000" stroke="none" stroke-width="0"/>
<ellipse cx="89.9" cy="298.2" rx="1.52" ry="1.84" fill="#000" stroke="none" stroke-width="0"/>
<ellipse cx="84" cy="304.4" rx="1.52" ry="1.84" fill="#000" stroke="none" stroke-width="0"/>
<ellipse cx="123.4" cy="311.7" rx="1.61" ry="1.95" fill="#000" stroke="none" stroke-width="0"/>
<ellipse cx="111.8" cy="310.5" rx="1.61" ry="1.95" fill="#000" stroke="none" stroke-width="0"/>
<ellipse cx="172.5" cy="315.8" rx="1.52" ry="1.84" fill="#000" stroke="none" stroke-width="0"/>
<ellipse cx="184.3" cy="235.9" rx="1.33" ry="1.61" fill="#000" stroke="none" stroke-width="0"/>
<ellipse cx="202.7" cy="235.9" rx="1.33" ry="1.61" fill="#000" stroke="none" stroke-width="0"/>
<ellipse cx="205.9" cy="236.4" rx="1.14" ry="1.38" fill="#000" stroke="none" stroke-width="0"/>
<circle cx="275" cy="205.7" r="1.87" fill="#e8101a"/>
<circle cx="288" cy="209.8" r="1.98" fill="#e8101a"/>
<circle cx="293.9" cy="209.8" r="1.98" fill="#e8101a"/>
<circle cx="184.9" cy="237" r="1.98" fill="#e8101a"/>
<circle cx="193.6" cy="237.1" r="1.98" fill="#e8101a"/>
<circle cx="203" cy="236.7" r="1.87" fill="#e8101a"/>
<circle cx="206.8" cy="237.3" r="1.87" fill="#e8101a"/>
<circle cx="212.9" cy="237.1" r="1.98" fill="#e8101a"/>
<circle cx="155.4" cy="251.3" r="1.76" fill="#e8101a"/>
<circle cx="213.6" cy="248.2" r="1.65" fill="#e8101a"/>
<circle cx="211.4" cy="252" r="1.43" fill="#e8101a"/>
<circle cx="236.9" cy="248.7" r="1.98" fill="#e8101a"/>
<circle cx="228.1" cy="259.7" r="1.1" fill="#e8101a"/>
<circle cx="264.7" cy="246.4" r="1.98" fill="#e8101a"/>
<circle cx="260" cy="253" r="1.98" fill="#e8101a"/>
<circle cx="251.5" cy="257" r="1.98" fill="#e8101a"/>
<circle cx="278.9" cy="258.6" r="1.98" fill="#e8101a"/>
<circle cx="194.5" cy="270" r="1.76" fill="#e8101a"/>
<circle cx="196.6" cy="274.6" r="1.76" fill="#e8101a"/>
<circle cx="210.9" cy="269.6" r="1.1" fill="#e8101a"/>
<circle cx="224.6" cy="272" r="1.98" fill="#e8101a"/>
<circle cx="229.9" cy="268.4" r="1.98" fill="#e8101a"/>
<circle cx="233.2" cy="273.8" r="1.76" fill="#e8101a"/>
<circle cx="241" cy="272" r="1.87" fill="#e8101a"/>
<circle cx="242.8" cy="268.8" r="1.87" fill="#e8101a"/>
<circle cx="244.9" cy="272.3" r="1.76" fill="#e8101a"/>
<circle cx="88.4" cy="298.9" r="1.76" fill="#e8101a"/>
<circle cx="84.8" cy="305.3" r="2.09" fill="#e8101a"/>
<circle cx="114.1" cy="310.2" r="1.65" fill="#e8101a"/>
<circle cx="170.8" cy="317.5" r="1.87" fill="#e8101a"/>
<text x="276" y="199.9" font-size="8.9" text-anchor="middle">H2-D</text>
<text x="157.9" y="246" font-size="8.9" text-anchor="middle">H5-C</text>
<text x="195" y="249.5" font-size="8.9" text-anchor="middle">H5-D</text>
<text x="195" y="258" font-size="8.9" text-anchor="middle">H3-C</text>
<text x="229.6" y="241.6" font-size="8.9" text-anchor="middle">H5-B</text>
<text x="256.6" y="240.4" font-size="8.9" text-anchor="middle">H3-B</text>
<text x="180" y="270.2" font-size="8.9" text-anchor="middle">H3-D</text>
<text x="180" y="278.4" font-size="8.9" text-anchor="middle">H2-C</text>
<text x="214.7" y="282.5" font-size="8.9" text-anchor="middle">H4-C</text>
<text x="260.6" y="270.5" font-size="8.9" text-anchor="middle">H4-B</text>
<text x="261.4" y="280.7" font-size="8.9" text-anchor="middle">H5-E</text>
<text x="244" y="296.5" font-size="8.9" text-anchor="middle">H4-D</text>
<text x="90.1" y="292.1" font-size="8.9" text-anchor="middle">H1-D</text>
<text x="87.2" y="319" font-size="8.9" text-anchor="middle">H1-B</text>
<text x="125.2" y="304.4" font-size="8.9" text-anchor="middle">H1-C</text>
<text x="171.6" y="310.2" font-size="8.9" text-anchor="middle">H1-E</text>
<text x="93.5" y="307.5" font-size="3.2" fill="#222" font-weight="bold">H₁-B</text>
<line x1="241.2" y1="287.3" x2="235.6" y2="268.5" stroke="#222" stroke-width="0.7"/>
<path d="M234.6 265.2 L237.6 270 L233.2 271.2 Z" stroke="none" stroke-width="0" fill="#222"/>
<text x="5.2" y="183" font-size="22.5">c</text>
</g>
<!-- panel_d -->
<g id="panel-d">
<clipPath id="dclip"><rect x="18" y="417" width="198" height="130"/></clipPath>
<path d="M20 531.7 L33 531.7 L36 532.1 L38 532.9 L39 533.5 L39.5 532.9 L39.75 500 L39.95 414 L41.35 414 L41.6 500 L41.9 527 L42.6 529.3 L44 530.8 L47 531.7 L52 531.7 L172 531.7 L174.6 532.3 L175.6 535 L176.2 537.8 L176.7 534 L177.3 531.1 L178.5 531.7 L193.2 531.7 L194.3 532.2 L194.8 534 L195.3 531.4 L196.5 531.7 L212.8 531.7" stroke="#2a2a2a" stroke-width="0.65" fill="none" stroke-linejoin="round" clip-path="url(#dclip)"/>
<path d="M20 530.76 L20.9 530.57 L21.8 531.12 L22.7 530.48 L23.6 530.99 L24.5 530.8 L25.4 530.46 L26.3 530.96 L27.2 530.44 L28.1 530.88 L29 530.48 L29.9 530.5 L30.8 530.87 L31.7 531.31 L32.6 530.54 L33.5 530.65 L34.4 531.09 L35 530 L35.6 526.9 L36.3 529.2 L37.2 530.4 L40 530.3 L42 529.6 L43.2 527.4 L44 525 L45 515.5 L45.9 506 L46.6 487 L47.3 467 L48 447 L48.4 433 L48.75 428.2 L49 432 L49.25 442.5 L49.55 431 L49.9 423 L50.4 414 L52.7 414 L53.1 429 L53.6 448 L54.2 468 L55 488 L56 506.5 L57.2 517.5 L58.4 523.2 L59.8 526.2 L62 528.4 L65.2 529.6 L69 530.4 L73 530.9 L73.6 531.44 L74.5 531.03 L75.4 530.84 L76.3 531.47 L77.2 530.45 L78.1 531.34 L79 530.72 L79.9 530.56 L80.8 530.53 L81.7 530.74 L82.6 531.3 L83.5 530.6 L84.4 531.04 L85.3 531.1 L86.3 532.8 L86.8 530.81 L87.7 531 L88.6 530.47 L89.5 530.47 L90.4 530.63 L91.3 531.15 L92.2 530.87 L93.1 530.75 L94 531.04 L94.9 530.9 L95.8 530.73 L96.7 531.27 L97.6 531.17 L98.5 530.67 L99.4 531.03 L100.3 530.98 L101.2 531.36 L102.1 531.2 L103 530.72 L103.9 531.48 L104.8 530.53 L105.7 530.86 L106.6 531.23 L107.5 530.57 L108.4 530.94 L109.3 530.44 L110.2 531.14 L111.1 531.24 L112.3 529.7 L112.9 531.03 L113.8 531.36 L114.7 530.75 L115.6 531.16 L116.5 531.05 L117.4 531.04 L118.3 530.9 L119.2 531.32 L120.1 531.44 L121 530.92 L121.9 531.13 L122.8 530.47 L123.7 531.17 L124.6 531.11 L125.5 531.49 L126.4 531.3 L127.3 530.71 L128.2 530.82 L129.1 531.14 L130 530.42 L130.9 530.91 L131.8 530.58 L132.7 530.53 L133.6 530.46 L134.5 531.25 L135.4 530.54 L136.3 530.67 L137.2 530.83 L138.1 531.36 L139 530.49 L139.9 530.89 L140.8 531 L141.7 531.37 L142.6 531.3 L143.5 531.35 L144.4 530.71 L145.3 530.86 L146.2 530.79 L147.1 531.37 L148 531.45 L148.9 530.57 L149.8 530.59 L150.7 530.66 L151.6 530.66 L152.5 530.93 L153.4 531.05 L154.3 530.69 L155.2 530.4 L156.1 530.86 L157 530.81 L157.9 531.02 L158.8 531.45 L159.7 531.16 L160.6 530.97 L161.5 531.08 L162.4 531.14 L163.3 530.46 L164.2 531.39 L165.1 531.26 L166 531.36 L166.9 531.28 L167.8 530.83 L168.7 530.84 L169.6 530.51 L170.5 531.1 L171.4 530.47 L172.3 530.47 L173.2 530.63 L174.1 530.58 L175 530.77 L175.9 530.46 L176.8 530.4 L177.6 530.8 L178.2 528 L179 523 L179.9 520.4 L180.3 522.4 L180.6 524.2 L181 519 L181.5 516.2 L182.1 518.5 L182.7 520.6 L183.2 521 L183.9 524.5 L184.6 529 L185.4 530.9 L185.9 530.57 L186.8 530.51 L187.7 530.8 L188.6 530.43 L189.5 531.36 L190.4 531.08 L191.3 530.56 L192.2 530.68 L193 530.9 L193.3 526 L193.7 521.5 L194.2 524 L194.8 525.6 L195.4 525.2 L196 528.5 L196.8 530.9 L197.2 530.78 L198.1 530.8 L199 530.54 L199.9 531.33 L200.8 531.49 L201.7 530.91 L202.6 530.93 L203.5 530.49 L204.4 530.51 L205.3 530.78 L206.2 530.69 L207.1 531.31 L208 530.58 L208.9 530.43 L209.8 531.45 L210.7 530.98 L211.6 530.56 L212.5 531" stroke="#f0202a" stroke-width="0.75" fill="none" stroke-linejoin="round" clip-path="url(#dclip)"/>
<line x1="20" y1="540.5" x2="212.8" y2="540.5" stroke="#222" stroke-width="0.65"/>
<line x1="20" y1="540.2" x2="20" y2="543.1" stroke="#222" stroke-width="0.65"/>
<line x1="23.86" y1="540.5" x2="23.86" y2="541.6" stroke="#333" stroke-width="0.5"/>
<line x1="27.71" y1="540.5" x2="27.71" y2="541.6" stroke="#333" stroke-width="0.5"/>
<line x1="31.57" y1="540.5" x2="31.57" y2="541.6" stroke="#333" stroke-width="0.5"/>
<line x1="35.42" y1="540.5" x2="35.42" y2="541.6" stroke="#333" stroke-width="0.5"/>
<line x1="39.28" y1="540.2" x2="39.28" y2="543.1" stroke="#222" stroke-width="0.65"/>
<line x1="43.14" y1="540.5" x2="43.14" y2="541.6" stroke="#333" stroke-width="0.5"/>
<line x1="46.99" y1="540.5" x2="46.99" y2="541.6" stroke="#333" stroke-width="0.5"/>
<line x1="50.85" y1="540.5" x2="50.85" y2="541.6" stroke="#333" stroke-width="0.5"/>
<line x1="54.7" y1="540.5" x2="54.7" y2="541.6" stroke="#333" stroke-width="0.5"/>
<line x1="58.56" y1="540.2" x2="58.56" y2="543.1" stroke="#222" stroke-width="0.65"/>
<line x1="62.42" y1="540.5" x2="62.42" y2="541.6" stroke="#333" stroke-width="0.5"/>
<line x1="66.27" y1="540.5" x2="66.27" y2="541.6" stroke="#333" stroke-width="0.5"/>
<line x1="70.13" y1="540.5" x2="70.13" y2="541.6" stroke="#333" stroke-width="0.5"/>
<line x1="73.98" y1="540.5" x2="73.98" y2="541.6" stroke="#333" stroke-width="0.5"/>
<line x1="77.84" y1="540.2" x2="77.84" y2="543.1" stroke="#222" stroke-width="0.65"/>
<line x1="81.7" y1="540.5" x2="81.7" y2="541.6" stroke="#333" stroke-width="0.5"/>
<line x1="85.55" y1="540.5" x2="85.55" y2="541.6" stroke="#333" stroke-width="0.5"/>
<line x1="89.41" y1="540.5" x2="89.41" y2="541.6" stroke="#333" stroke-width="0.5"/>
<line x1="93.26" y1="540.5" x2="93.26" y2="541.6" stroke="#333" stroke-width="0.5"/>
<line x1="97.12" y1="540.2" x2="97.12" y2="543.1" stroke="#222" stroke-width="0.65"/>
<line x1="100.98" y1="540.5" x2="100.98" y2="541.6" stroke="#333" stroke-width="0.5"/>
<line x1="104.83" y1="540.5" x2="104.83" y2="541.6" stroke="#333" stroke-width="0.5"/>
<line x1="108.69" y1="540.5" x2="108.69" y2="541.6" stroke="#333" stroke-width="0.5"/>
<line x1="112.54" y1="540.5" x2="112.54" y2="541.6" stroke="#333" stroke-width="0.5"/>
<line x1="116.4" y1="540.2" x2="116.4" y2="543.1" stroke="#222" stroke-width="0.65"/>
<line x1="120.26" y1="540.5" x2="120.26" y2="541.6" stroke="#333" stroke-width="0.5"/>
<line x1="124.11" y1="540.5" x2="124.11" y2="541.6" stroke="#333" stroke-width="0.5"/>
<line x1="127.97" y1="540.5" x2="127.97" y2="541.6" stroke="#333" stroke-width="0.5"/>
<line x1="131.82" y1="540.5" x2="131.82" y2="541.6" stroke="#333" stroke-width="0.5"/>
<line x1="135.68" y1="540.2" x2="135.68" y2="543.1" stroke="#222" stroke-width="0.65"/>
<line x1="139.54" y1="540.5" x2="139.54" y2="541.6" stroke="#333" stroke-width="0.5"/>
<line x1="143.39" y1="540.5" x2="143.39" y2="541.6" stroke="#333" stroke-width="0.5"/>
<line x1="147.25" y1="540.5" x2="147.25" y2="541.6" stroke="#333" stroke-width="0.5"/>
<line x1="151.1" y1="540.5" x2="151.1" y2="541.6" stroke="#333" stroke-width="0.5"/>
<line x1="154.96" y1="540.2" x2="154.96" y2="543.1" stroke="#222" stroke-width="0.65"/>
<line x1="158.82" y1="540.5" x2="158.82" y2="541.6" stroke="#333" stroke-width="0.5"/>
<line x1="162.67" y1="540.5" x2="162.67" y2="541.6" stroke="#333" stroke-width="0.5"/>
<line x1="166.53" y1="540.5" x2="166.53" y2="541.6" stroke="#333" stroke-width="0.5"/>
<line x1="170.38" y1="540.5" x2="170.38" y2="541.6" stroke="#333" stroke-width="0.5"/>
<line x1="174.24" y1="540.2" x2="174.24" y2="543.1" stroke="#222" stroke-width="0.65"/>
<line x1="178.1" y1="540.5" x2="178.1" y2="541.6" stroke="#333" stroke-width="0.5"/>
<line x1="181.95" y1="540.5" x2="181.95" y2="541.6" stroke="#333" stroke-width="0.5"/>
<line x1="185.81" y1="540.5" x2="185.81" y2="541.6" stroke="#333" stroke-width="0.5"/>
<line x1="189.66" y1="540.5" x2="189.66" y2="541.6" stroke="#333" stroke-width="0.5"/>
<line x1="193.52" y1="540.2" x2="193.52" y2="543.1" stroke="#222" stroke-width="0.65"/>
<line x1="197.38" y1="540.5" x2="197.38" y2="541.6" stroke="#333" stroke-width="0.5"/>
<line x1="201.23" y1="540.5" x2="201.23" y2="541.6" stroke="#333" stroke-width="0.5"/>
<line x1="205.09" y1="540.5" x2="205.09" y2="541.6" stroke="#333" stroke-width="0.5"/>
<line x1="208.94" y1="540.5" x2="208.94" y2="541.6" stroke="#333" stroke-width="0.5"/>
<line x1="212.8" y1="540.2" x2="212.8" y2="543.1" stroke="#222" stroke-width="0.65"/>
<text x="38.8" y="553.7" font-size="10" text-anchor="middle">7.5</text>
<text x="77.04" y="553.7" font-size="10" text-anchor="middle">6.5</text>
<text x="115.28" y="553.7" font-size="10" text-anchor="middle">5.5</text>
<text x="153.52" y="553.7" font-size="10" text-anchor="middle">4.5</text>
<text x="191.76" y="553.7" font-size="10" text-anchor="middle">3.5</text>
<text x="204.8" y="553.7" font-size="10">1H (ppm)</text>
<text x="48" y="410.8" font-size="10.2" text-anchor="middle">4-5</text>
<text x="181" y="511.8" font-size="9.4" text-anchor="middle">6a</text>
<text x="193.9" y="519.1" font-size="9.4" text-anchor="middle">6b</text>
<line x1="95.22" y1="446.5" x2="105.44" y2="440.95" stroke="#333" stroke-width="0.7"/>
<line x1="105.44" y1="440.95" x2="114.2" y2="446.5" stroke="#333" stroke-width="0.7"/>
<line x1="114.2" y1="446.5" x2="114.2" y2="457.45" stroke="#333" stroke-width="0.7"/>
<line x1="114.2" y1="457.45" x2="105.44" y2="462.55" stroke="#333" stroke-width="0.7"/>
<line x1="105.44" y1="462.55" x2="97.55" y2="458.76" stroke="#333" stroke-width="0.7"/>
<line x1="95.22" y1="455.26" x2="95.22" y2="446.5" stroke="#333" stroke-width="0.7"/>
<line x1="96.68" y1="446.79" x2="105.15" y2="442.26" stroke="#333" stroke-width="0.7"/>
<line x1="113.03" y1="447.23" x2="113.03" y2="456.72" stroke="#333" stroke-width="0.7"/>
<line x1="97.85" y1="457.59" x2="105.15" y2="461.39" stroke="#333" stroke-width="0.7"/>
<line x1="114.2" y1="446.5" x2="123.69" y2="440.95" stroke="#333" stroke-width="0.7"/>
<line x1="123.69" y1="440.95" x2="133.18" y2="446.5" stroke="#333" stroke-width="0.7"/>
<line x1="133.18" y1="446.5" x2="133.18" y2="457.45" stroke="#333" stroke-width="0.7"/>
<line x1="133.18" y1="457.45" x2="123.69" y2="462.55" stroke="#333" stroke-width="0.7"/>
<line x1="123.69" y1="462.55" x2="114.2" y2="457.45" stroke="#333" stroke-width="0.7"/>
<line x1="123.69" y1="440.95" x2="123.69" y2="433.07" stroke="#333" stroke-width="0.7"/>
<line x1="122.66" y1="440.95" x2="122.66" y2="433.36" stroke="#333" stroke-width="0.7"/>
<line x1="123.69" y1="462.55" x2="123.69" y2="470.58" stroke="#333" stroke-width="0.7"/>
<line x1="122.66" y1="462.55" x2="122.66" y2="470.29" stroke="#333" stroke-width="0.7"/>
<line x1="133.18" y1="446.5" x2="141.2" y2="442.41" stroke="#333" stroke-width="0.7"/>
<line x1="133.18" y1="457.45" x2="141.2" y2="461.09" stroke="#333" stroke-width="0.7"/>
<ellipse cx="147.1" cy="433.8" rx="13.2" ry="16.4" fill="#cfd1f3" stroke="none" stroke-width="0" fill-opacity="0.7"/>
<ellipse cx="147.9" cy="469.4" rx="13.2" ry="16.4" fill="#cfd1f3" stroke="none" stroke-width="0" fill-opacity="0.7"/>
<line x1="141.2" y1="442.41" x2="152.45" y2="446.5" stroke="#8a8ca8" stroke-width="0.7"/>
<line x1="141.64" y1="443.58" x2="151.42" y2="448.25" stroke="#8a8ca8" stroke-width="0.7"/>
<line x1="141.2" y1="461.09" x2="152.45" y2="456.42" stroke="#8a8ca8" stroke-width="0.7"/>
<line x1="141.64" y1="459.93" x2="151.42" y2="455.55" stroke="#8a8ca8" stroke-width="0.7"/>
<line x1="141.2" y1="442.41" x2="141.2" y2="433.36" stroke="#8a8ca8" stroke-width="0.7"/>
<line x1="141.2" y1="461.09" x2="141.2" y2="470.58" stroke="#8a8ca8" stroke-width="0.7"/>
<line x1="145.15" y1="428.69" x2="151.42" y2="425.33" stroke="#8a8ca8" stroke-width="0.7"/>
<line x1="151.42" y1="425.33" x2="160.91" y2="429.71" stroke="#333" stroke-width="0.7"/>
<line x1="160.91" y1="429.71" x2="168.21" y2="425.77" stroke="#333" stroke-width="0.7"/>
<line x1="145.15" y1="475.4" x2="152.88" y2="478.61" stroke="#8a8ca8" stroke-width="0.7"/>
<line x1="152.88" y1="478.61" x2="160.91" y2="474.23" stroke="#333" stroke-width="0.7"/>
<line x1="160.91" y1="474.23" x2="168.5" y2="477.88" stroke="#333" stroke-width="0.7"/>
<path d="M152.15 427.52 Q146.31 437.74 153.61 445.04" stroke="#8a8ca8" stroke-width="0.5" fill="none"/>
<path d="M157.26 431.9 Q158.72 440.66 155.07 445.77" stroke="#8a8ca8" stroke-width="0.5" fill="none"/>
<path d="M152.88 458.18 Q146.31 468.39 151.42 477.15" stroke="#8a8ca8" stroke-width="0.5" fill="none"/>
<path d="M156.53 458.91 Q160.91 468.39 154.78 477.15" stroke="#8a8ca8" stroke-width="0.5" fill="none"/>
<text x="123.69" y="432.48" font-size="5.8" text-anchor="middle" fill="#111" font-weight="bold">O</text>
<text x="123.69" y="475.99" font-size="5.8" text-anchor="middle" fill="#111" font-weight="bold">O</text>
<text x="95.22" y="459.49" font-size="5.8" text-anchor="middle" fill="#111" font-weight="bold">N</text>
<text x="105.15" y="438.32" font-size="5.8" text-anchor="middle" fill="#111" font-weight="bold">3</text>
<text x="91.13" y="447.81" font-size="5.8" text-anchor="middle" fill="#111" font-weight="bold">2</text>
<text x="105.15" y="470.15" font-size="5.8" text-anchor="middle" fill="#111" font-weight="bold">1</text>
<text x="141.2" y="432.19" font-size="5.4" text-anchor="middle" fill="#8a8ca8" font-weight="normal">HN</text>
<text x="141.2" y="475.99" font-size="5.4" text-anchor="middle" fill="#8a8ca8" font-weight="normal">HN</text>
<text x="148.8" y="422.85" font-size="4.8" text-anchor="middle" fill="#9a9cb8" font-weight="normal">6a</text>
<text x="148.8" y="483.72" font-size="4.8" text-anchor="middle" fill="#9a9cb8" font-weight="normal">6a</text>
<text x="154.78" y="450.58" font-size="5.4" text-anchor="middle" fill="#8a8ca8" font-weight="bold">4</text>
<text x="155.36" y="457.74" font-size="5.8" text-anchor="middle" fill="#8a8ca8" font-weight="normal">S</text>
<text x="165.29" y="435.84" font-size="5.6" text-anchor="middle" fill="#111" font-weight="bold">6b</text>
<text x="166.02" y="473.36" font-size="5.6" text-anchor="middle" fill="#111" font-weight="bold">6b</text>
<text x="168.5" y="427.08" font-size="5.8" fill="#111" font-weight="bold">NH<tspan font-size="4" dy="1">2</tspan></text>
<text x="168.94" y="481.82" font-size="5.8" fill="#111" font-weight="bold">NH<tspan font-size="4" dy="1">2</tspan></text>
<text x="5" y="395.4" font-size="22.5">d</text>
</g>
<!-- panel_e -->
<g id="panel-e">
<line x1="271.2" y1="422.3" x2="271.2" y2="534" stroke="#000" stroke-width="1.4"/>
<line x1="270.5" y1="534" x2="382.7" y2="534" stroke="#000" stroke-width="1.4"/>
<line x1="265.7" y1="423" x2="271.2" y2="423" stroke="#000" stroke-width="1.4"/>
<text x="264.5" y="426.42" font-size="9.5" text-anchor="end">0.15</text>
<line x1="265.7" y1="457.8" x2="271.2" y2="457.8" stroke="#000" stroke-width="1.4"/>
<text x="264.5" y="461.22" font-size="9.5" text-anchor="end">0.10</text>
<line x1="265.7" y1="492.6" x2="271.2" y2="492.6" stroke="#000" stroke-width="1.4"/>
<text x="264.5" y="496.02" font-size="9.5" text-anchor="end">0.05</text>
<line x1="265.7" y1="527.4" x2="271.2" y2="527.4" stroke="#000" stroke-width="1.4"/>
<text x="264.5" y="530.82" font-size="9.5" text-anchor="end">0.00</text>
<line x1="271.2" y1="534" x2="271.2" y2="538.5" stroke="#000" stroke-width="1.4"/>
<text x="271.2" y="547.02" font-size="9.5" text-anchor="middle">500</text>
<line x1="298.9" y1="534" x2="298.9" y2="538.5" stroke="#000" stroke-width="1.4"/>
<text x="298.9" y="547.02" font-size="9.5" text-anchor="middle">550</text>
<line x1="326.6" y1="534" x2="326.6" y2="538.5" stroke="#000" stroke-width="1.4"/>
<text x="326.6" y="547.02" font-size="9.5" text-anchor="middle">600</text>
<line x1="354.3" y1="534" x2="354.3" y2="538.5" stroke="#000" stroke-width="1.4"/>
<text x="354.3" y="547.02" font-size="9.5" text-anchor="middle">650</text>
<line x1="382" y1="534" x2="382" y2="538.5" stroke="#000" stroke-width="1.4"/>
<text x="382" y="547.02" font-size="9.5" text-anchor="middle">700</text>
<path d="M271.2 531.37 L272.57 530.98 L273.93 530.58 L275.3 530.16 L276.67 529.72 L278.04 529.27 L279.4 528.81 L280.77 528.32 L282.14 527.82 L283.51 527.3 L284.87 526.77 L286.24 526.23 L287.61 525.66 L288.98 525.09 L290.34 524.49 L291.71 523.88 L293.08 523.26 L294.45 522.62 L295.81 521.97 L297.18 521.3 L298.55 520.62 L299.92 519.92 L301.28 519.21 L302.65 518.47 L304.02 517.71 L305.39 516.93 L306.75 516.11 L308.12 515.26 L309.49 514.37 L310.86 513.45 L312.22 512.47 L313.59 511.46 L314.96 510.4 L316.33 509.33 L317.69 508.27 L319.06 507.24 L320.43 506.25 L321.8 505.34 L323.16 504.52 L324.53 503.79 L325.9 503.17 L327.27 502.67 L328.63 502.28 L330 501.98 L331.37 501.76 L332.74 501.57 L334.1 501.4 L335.47 501.19 L336.84 500.88 L338.21 500.46 L339.57 499.92 L340.94 499.31 L342.31 498.64 L343.68 497.93 L345.04 497.23 L346.41 496.59 L347.78 496.1 L349.15 495.81 L350.51 495.77 L351.88 495.96 L353.25 496.35 L354.62 496.92 L355.98 497.66 L357.35 498.51 L358.72 499.45 L360.09 500.43 L361.45 501.43 L362.82 502.45 L364.19 503.47 L365.56 504.51 L366.92 505.56 L368.29 506.63 L369.66 507.7 L371.03 508.76 L372.39 509.78 L373.76 510.74 L375.13 511.62 L376.5 512.38 L377.86 513.01 L379.23 513.48" stroke="#22dd22" stroke-width="1.15" fill="none" stroke-linejoin="round" stroke-linecap="round"/>
<path d="M271.2 530.74 L272.57 530.31 L273.93 529.87 L275.3 529.42 L276.67 528.97 L278.04 528.51 L279.4 528.05 L280.77 527.57 L282.14 527.09 L283.51 526.59 L284.87 526.07 L286.24 525.55 L287.61 525 L288.98 524.44 L290.34 523.86 L291.71 523.27 L293.08 522.65 L294.45 522 L295.81 521.34 L297.18 520.65 L298.55 519.93 L299.92 519.19 L301.28 518.42 L302.65 517.62 L304.02 516.79 L305.39 515.92 L306.75 515.03 L308.12 514.1 L309.49 513.14 L310.86 512.14 L312.22 511.1 L313.59 510.03 L314.96 508.94 L316.33 507.85 L317.69 506.78 L319.06 505.77 L320.43 504.83 L321.8 504 L323.16 503.26 L324.53 502.62 L325.9 502.05 L327.27 501.55 L328.63 501.1 L330 500.71 L331.37 500.4 L332.74 500.16 L334.1 499.98 L335.47 499.78 L336.84 499.49 L338.21 499.06 L339.57 498.52 L340.94 497.9 L342.31 497.23 L343.68 496.55 L345.04 495.89 L346.41 495.3 L347.78 494.84 L349.15 494.56 L350.51 494.49 L351.88 494.64 L353.25 494.98 L354.62 495.53 L355.98 496.25 L357.35 497.11 L358.72 498.05 L360.09 499.04 L361.45 500.05 L362.82 501.06 L364.19 502.08 L365.56 503.12 L366.92 504.17 L368.29 505.24 L369.66 506.32 L371.03 507.39 L372.39 508.41 L373.76 509.35 L375.13 510.18 L376.5 510.86 L377.86 511.37 L379.23 511.67" stroke="#8cdcff" stroke-width="1.15" fill="none" stroke-linejoin="round" stroke-linecap="round"/>
<path d="M271.2 528.1 L272.57 527.63 L273.93 527.12 L275.3 526.58 L276.67 526.01 L278.04 525.41 L279.4 524.77 L280.77 524.1 L282.14 523.41 L283.51 522.68 L284.87 521.93 L286.24 521.15 L287.61 520.34 L288.98 519.51 L290.34 518.66 L291.71 517.77 L293.08 516.87 L294.45 515.94 L295.81 515 L297.18 514.03 L298.55 513.04 L299.92 512.03 L301.28 511 L302.65 509.95 L304.02 508.86 L305.39 507.74 L306.75 506.58 L308.12 505.38 L309.49 504.14 L310.86 502.84 L312.22 501.49 L313.59 500.08 L314.96 498.63 L316.33 497.18 L317.69 495.75 L319.06 494.4 L320.43 493.14 L321.8 492.01 L323.16 491.04 L324.53 490.23 L325.9 489.59 L327.27 489.12 L328.63 488.82 L330 488.62 L331.37 488.49 L332.74 488.37 L334.1 488.23 L335.47 488.01 L336.84 487.64 L338.21 487.12 L339.57 486.45 L340.94 485.68 L342.31 484.83 L343.68 483.95 L345.04 483.09 L346.41 482.32 L347.78 481.73 L349.15 481.4 L350.51 481.38 L351.88 481.66 L353.25 482.23 L354.62 483.08 L355.98 484.19 L357.35 485.53 L358.72 487.06 L360.09 488.73 L361.45 490.53 L362.82 492.42 L364.19 494.39 L365.56 496.39 L366.92 498.43 L368.29 500.46 L369.66 502.47 L371.03 504.42 L372.39 506.28 L373.76 508 L375.13 509.54 L376.5 510.88 L377.86 511.97 L379.23 512.78" stroke="#c48cff" stroke-width="1.15" fill="none" stroke-linejoin="round" stroke-linecap="round"/>
<path d="M271.2 520.86 L272.57 520.28 L273.93 519.67 L275.3 519.03 L276.67 518.35 L278.04 517.63 L279.4 516.89 L280.77 516.11 L282.14 515.3 L283.51 514.46 L284.87 513.59 L286.24 512.69 L287.61 511.76 L288.98 510.81 L290.34 509.82 L291.71 508.81 L293.08 507.76 L294.45 506.7 L295.81 505.6 L297.18 504.48 L298.55 503.34 L299.92 502.17 L301.28 500.97 L302.65 499.73 L304.02 498.44 L305.39 497.09 L306.75 495.67 L308.12 494.18 L309.49 492.59 L310.86 490.92 L312.22 489.14 L313.59 487.25 L314.96 485.28 L316.33 483.3 L317.69 481.38 L319.06 479.57 L320.43 477.95 L321.8 476.59 L323.16 475.49 L324.53 474.64 L325.9 474.03 L327.27 473.64 L328.63 473.44 L330 473.37 L331.37 473.41 L332.74 473.5 L334.1 473.58 L335.47 473.56 L336.84 473.32 L338.21 472.84 L339.57 472.13 L340.94 471.27 L342.31 470.3 L343.68 469.29 L345.04 468.31 L346.41 467.45 L347.78 466.83 L349.15 466.52 L350.51 466.61 L351.88 467.1 L353.25 467.99 L354.62 469.27 L355.98 470.92 L357.35 472.92 L358.72 475.21 L360.09 477.76 L361.45 480.52 L362.82 483.44 L364.19 486.47 L365.56 489.56 L366.92 492.65 L368.29 495.69 L369.66 498.65 L371.03 501.48 L372.39 504.15 L373.76 506.64 L375.13 508.92 L376.5 510.96 L377.86 512.72 L379.23 514.18" stroke="#6a3daa" stroke-width="1.15" fill="none" stroke-linejoin="round" stroke-linecap="round"/>
<path d="M271.2 517.66 L272.57 516.99 L273.93 516.27 L275.3 515.5 L276.67 514.68 L278.04 513.81 L279.4 512.89 L280.77 511.92 L282.14 510.91 L283.51 509.85 L284.87 508.75 L286.24 507.61 L287.61 506.43 L288.98 505.21 L290.34 503.96 L291.71 502.67 L293.08 501.35 L294.45 500 L295.81 498.61 L297.18 497.2 L298.55 495.76 L299.92 494.29 L301.28 492.78 L302.65 491.23 L304.02 489.6 L305.39 487.89 L306.75 486.08 L308.12 484.16 L309.49 482.11 L310.86 479.91 L312.22 477.55 L313.59 475.01 L314.96 472.35 L316.33 469.65 L317.69 467.01 L319.06 464.5 L320.43 462.23 L321.8 460.27 L323.16 458.68 L324.53 457.48 L325.9 456.67 L327.27 456.26 L328.63 456.22 L330 456.44 L331.37 456.84 L332.74 457.31 L334.1 457.74 L335.47 458 L336.84 457.97 L338.21 457.58 L339.57 456.9 L340.94 456.01 L342.31 455.01 L343.68 453.98 L345.04 453.02 L346.41 452.22 L347.78 451.69 L349.15 451.53 L350.51 451.81 L351.88 452.55 L353.25 453.76 L354.62 455.45 L355.98 457.63 L357.35 460.28 L358.72 463.34 L360.09 466.8 L361.45 470.6 L362.82 474.66 L364.19 478.89 L365.56 483.18 L366.92 487.46 L368.29 491.63 L369.66 495.6 L371.03 499.34 L372.39 502.81 L373.76 505.98 L375.13 508.8 L376.5 511.25 L377.86 513.29 L379.23 514.87" stroke="#1a989c" stroke-width="1.15" fill="none" stroke-linejoin="round" stroke-linecap="round"/>
<path d="M271.2 516.26 L272.57 515.61 L273.93 514.88 L275.3 514.08 L276.67 513.21 L278.04 512.27 L279.4 511.27 L280.77 510.2 L282.14 509.08 L283.51 507.91 L284.87 506.68 L286.24 505.41 L287.61 504.09 L288.98 502.73 L290.34 501.33 L291.71 499.89 L293.08 498.43 L294.45 496.93 L295.81 495.41 L297.18 493.87 L298.55 492.31 L299.92 490.73 L301.28 489.12 L302.65 487.46 L304.02 485.73 L305.39 483.91 L306.75 481.98 L308.12 479.92 L309.49 477.71 L310.86 475.33 L312.22 472.76 L313.59 469.99 L314.96 467.06 L316.33 464.09 L317.69 461.19 L319.06 458.46 L320.43 456.02 L321.8 453.96 L323.16 452.34 L324.53 451.15 L325.9 450.38 L327.27 450.02 L328.63 450 L330 450.24 L331.37 450.61 L332.74 451.01 L334.1 451.35 L335.47 451.54 L336.84 451.51 L338.21 451.2 L339.57 450.68 L340.94 450.02 L342.31 449.27 L343.68 448.5 L345.04 447.79 L346.41 447.23 L347.78 446.91 L349.15 446.91 L350.51 447.32 L351.88 448.17 L353.25 449.49 L354.62 451.31 L355.98 453.64 L357.35 456.45 L358.72 459.7 L360.09 463.35 L361.45 467.35 L362.82 471.61 L364.19 476.05 L365.56 480.58 L366.92 485.12 L368.29 489.57 L369.66 493.86 L371.03 497.94 L372.39 501.77 L373.76 505.3 L375.13 508.49 L376.5 511.29 L377.86 513.67 L379.23 515.57" stroke="#ff3d85" stroke-width="1.15" fill="none" stroke-linejoin="round" stroke-linecap="round"/>
<path d="M271.2 514.52 L272.57 513.86 L273.93 513.11 L275.3 512.29 L276.67 511.38 L278.04 510.41 L279.4 509.37 L280.77 508.27 L282.14 507.1 L283.51 505.88 L284.87 504.6 L286.24 503.27 L287.61 501.89 L288.98 500.47 L290.34 499.01 L291.71 497.5 L293.08 495.97 L294.45 494.4 L295.81 492.8 L297.18 491.18 L298.55 489.54 L299.92 487.88 L301.28 486.19 L302.65 484.44 L304.02 482.61 L305.39 480.67 L306.75 478.62 L308.12 476.41 L309.49 474.03 L310.86 471.46 L312.22 468.68 L313.59 465.66 L314.96 462.47 L316.33 459.24 L317.69 456.08 L319.06 453.13 L320.43 450.51 L321.8 448.34 L323.16 446.67 L324.53 445.49 L325.9 444.77 L327.27 444.5 L328.63 444.61 L330 445.01 L331.37 445.59 L332.74 446.27 L334.1 446.89 L335.47 447.3 L336.84 447.33 L338.21 446.88 L339.57 446.06 L340.94 445.03 L342.31 443.91 L343.68 442.84 L345.04 441.94 L346.41 441.25 L347.78 440.84 L349.15 440.76 L350.51 441.07 L351.88 441.84 L353.25 443.15 L354.62 445.08 L355.98 447.65 L357.35 450.8 L358.72 454.46 L360.09 458.57 L361.45 463.04 L362.82 467.78 L364.19 472.69 L365.56 477.69 L366.92 482.66 L368.29 487.52 L369.66 492.19 L371.03 496.62 L372.39 500.77 L373.76 504.62 L375.13 508.13 L376.5 511.26 L377.86 513.99 L379.23 516.26" stroke="#000000" stroke-width="1.15" fill="none" stroke-linejoin="round" stroke-linecap="round"/>
<line x1="385.2" y1="427.4" x2="397.9" y2="427.4" stroke="#000000" stroke-width="1.3"/>
<text x="404.7" y="430.7" font-size="9">P 0</text>
<line x1="385.2" y1="442.95" x2="397.9" y2="442.95" stroke="#ff3d85" stroke-width="1.3"/>
<text x="404.7" y="446.25" font-size="9">P 1.57</text>
<line x1="385.2" y1="458.5" x2="397.9" y2="458.5" stroke="#1a989c" stroke-width="1.3"/>
<text x="404.7" y="461.8" font-size="9">P3.13</text>
<line x1="385.2" y1="474.05" x2="397.9" y2="474.05" stroke="#6a3daa" stroke-width="1.3"/>
<text x="404.7" y="477.35" font-size="9">P6.25</text>
<line x1="385.2" y1="489.6" x2="397.9" y2="489.6" stroke="#c48cff" stroke-width="1.3"/>
<text x="404.7" y="492.9" font-size="9">P12.5</text>
<line x1="385.2" y1="505.15" x2="397.9" y2="505.15" stroke="#8cdcff" stroke-width="1.3"/>
<text x="404.7" y="508.45" font-size="9">P25</text>
<line x1="385.2" y1="520.7" x2="397.9" y2="520.7" stroke="#22dd22" stroke-width="1.3"/>
<text x="404.7" y="524" font-size="9">P50</text>
<text x="320.3" y="407.8" font-size="11" text-anchor="middle">6-mer-NS2S3S6S+PIXN</text>
<text x="244.2" y="475.2" font-size="12.5" text-anchor="middle" transform="rotate(-90 244.2 475.2)">Absorbance</text>
<text x="327.6" y="560.3" font-size="12.5" text-anchor="middle">nm</text>
<text x="224" y="395.4" font-size="22.5">e</text>
</g>
<!-- panel_f -->
<g id="panel-f">
<path d="M488.71 525.71 L490.08 523.67 L491.44 520.72 L492.81 516.94 L494.17 512.48 L495.54 507.51 L496.9 502.22 L498.27 496.79 L499.63 491.37 L501 486.09 L502.36 481.04 L503.73 476.28 L505.09 471.84 L506.45 467.74 L507.82 463.97 L509.18 460.53 L510.55 457.4 L511.91 454.55 L513.28 451.97 L514.64 449.64 L516.01 447.52 L517.37 445.6 L518.74 443.86 L520.1 442.28 L521.47 440.85 L522.83 439.54 L524.2 438.35 L525.56 437.27 L526.93 436.28 L528.29 435.37 L529.66 434.54 L531.02 433.78 L532.39 433.07 L533.75 432.43 L535.12 431.83 L536.48 431.28 L537.85 430.77 L539.21 430.3 L540.57 429.86 L541.94 429.45 L543.3 429.08 L544.67 428.72 L546.03 428.39 L547.4 428.09 L548.76 427.8 L550.13 427.53 L551.49 427.28 L552.86 427.04 L554.22 426.82 L555.59 426.61 L556.95 426.42 L558.32 426.23 L559.68 426.06 L561.05 425.89 L562.41 425.73 L563.78 425.59 L565.14 425.45 L566.51 425.32 L567.87 425.19 L569.24 425.07 L570.6 424.96 L571.96 424.85 L573.33 424.75 L574.69 424.65 L576.06 424.56 L577.42 424.47 L578.79 424.39 L580.15 424.31 L581.52 424.23 L582.88 424.16" stroke="#ff1070" stroke-width="0.8" fill="none" stroke-linejoin="round"/>
<path d="M490.65 526.42 L491.99 525.42 L493.33 523.77 L494.66 521.39 L496 518.28 L497.34 514.54 L498.67 510.37 L500.01 506 L501.35 501.68 L502.68 497.58 L504.02 493.83 L505.36 490.49 L506.69 487.58 L508.03 485.07 L509.37 482.94 L510.7 481.14 L512.04 479.61 L513.38 478.33 L514.71 477.24 L516.05 476.32 L517.39 475.55 L518.72 474.89 L520.06 474.32 L521.4 473.84 L522.73 473.43 L524.07 473.07 L525.41 472.76 L526.74 472.5 L528.08 472.26 L529.42 472.06 L530.75 471.88 L532.09 471.72 L533.43 471.58 L534.76 471.46 L536.1 471.35 L537.44 471.25 L538.77 471.17 L540.11 471.09 L541.45 471.02 L542.78 470.96 L544.12 470.9 L545.46 470.85 L546.79 470.8 L548.13 470.76 L549.47 470.72 L550.8 470.69 L552.14 470.66 L553.48 470.63 L554.81 470.6 L556.15 470.58 L557.49 470.55 L558.82 470.53 L560.16 470.51 L561.5 470.5 L562.83 470.48 L564.17 470.46 L565.51 470.45 L566.84 470.44 L568.18 470.43 L569.52 470.41 L570.85 470.4 L572.19 470.39 L573.53 470.39 L574.86 470.38 L576.2 470.37 L577.54 470.36 L578.87 470.35 L580.21 470.35 L581.55 470.34 L582.88 470.34" stroke="#000" stroke-width="0.8" fill="none" stroke-linejoin="round"/>
<rect x="484.47" y="524.18" width="4.6" height="4.6" fill="#ff0d66"/>
<rect x="489.58" y="513.36" width="4.6" height="4.6" fill="#ff0d66"/>
<rect x="495.64" y="496.77" width="4.6" height="4.6" fill="#ff0d66"/>
<rect x="507.77" y="457.1" width="4.6" height="4.6" fill="#ff0d66"/>
<rect x="532.04" y="427.53" width="4.6" height="4.6" fill="#ff0d66"/>
<rect x="580.58" y="423.2" width="4.6" height="4.6" fill="#ff0d66"/>
<circle cx="486.77" cy="526.48" r="2.4" fill="#000"/>
<circle cx="491.88" cy="526.48" r="2.4" fill="#000"/>
<circle cx="497.94" cy="511.33" r="2.4" fill="#000"/>
<circle cx="510.07" cy="480.32" r="2.4" fill="#000"/>
<circle cx="534.34" cy="468.78" r="2.4" fill="#000"/>
<circle cx="582.88" cy="472.39" r="2.4" fill="#000"/>
<rect x="485.8" y="411.8" width="116.5" height="116.4" fill="none" stroke="#000" stroke-width="1.2"/>
<line x1="482.3" y1="411.8" x2="485.8" y2="411.8" stroke="#000" stroke-width="1.2"/>
<text x="480.8" y="415.6" font-size="10.2" text-anchor="end">80</text>
<line x1="482.3" y1="440.65" x2="485.8" y2="440.65" stroke="#000" stroke-width="1.2"/>
<text x="480.8" y="444.45" font-size="10.2" text-anchor="end">60</text>
<line x1="482.3" y1="469.5" x2="485.8" y2="469.5" stroke="#000" stroke-width="1.2"/>
<text x="480.8" y="473.3" font-size="10.2" text-anchor="end">40</text>
<line x1="482.3" y1="498.35" x2="485.8" y2="498.35" stroke="#000" stroke-width="1.2"/>
<text x="480.8" y="502.15" font-size="10.2" text-anchor="end">20</text>
<line x1="482.3" y1="527.2" x2="485.8" y2="527.2" stroke="#000" stroke-width="1.2"/>
<text x="480.8" y="531" font-size="10.2" text-anchor="end">0</text>
<line x1="485.8" y1="528.2" x2="485.8" y2="533.2" stroke="#000" stroke-width="1.2"/>
<text x="485" y="545.5" font-size="10.8" text-anchor="middle">0</text>
<line x1="505.22" y1="528.2" x2="505.22" y2="531" stroke="#000" stroke-width="1.1"/>
<line x1="524.63" y1="528.2" x2="524.63" y2="533.2" stroke="#000" stroke-width="1.2"/>
<text x="523.83" y="545.5" font-size="10.8" text-anchor="middle">20</text>
<line x1="544.05" y1="528.2" x2="544.05" y2="531" stroke="#000" stroke-width="1.1"/>
<line x1="563.47" y1="528.2" x2="563.47" y2="533.2" stroke="#000" stroke-width="1.2"/>
<text x="562.67" y="545.5" font-size="10.8" text-anchor="middle">40</text>
<line x1="582.88" y1="528.2" x2="582.88" y2="531" stroke="#000" stroke-width="1.1"/>
<line x1="602.3" y1="528.2" x2="602.3" y2="533.2" stroke="#000" stroke-width="1.2"/>
<text x="601.5" y="545.5" font-size="10.8" text-anchor="middle">60</text>
<text x="512.5" y="435" font-size="11" text-anchor="middle" fill="#f018a0">PIXN</text>
<text x="562.5" y="464" font-size="11" text-anchor="middle">MTAN</text>
<text x="462.6" y="476.3" font-size="10.8" text-anchor="middle" transform="rotate(-90 462.6 476.3)">Ab650 reduction (%)</text>
<text x="541.9" y="559" font-size="11.2" text-anchor="middle">6-mer-NS2S3S6S (μM)</text>
<text x="439.5" y="395" font-size="22.5">f</text>
</g>
<!-- panel_g -->
<g id="panel-g">
<line x1="38.2" y1="633.65" x2="38.2" y2="745.3" stroke="#000" stroke-width="1.1"/>
<line x1="37.65" y1="745.3" x2="149.85" y2="745.3" stroke="#000" stroke-width="1.1"/>
<line x1="34" y1="634.2" x2="38.2" y2="634.2" stroke="#000" stroke-width="1.1"/>
<text x="32.8" y="637.8" font-size="10" text-anchor="end">0.15</text>
<line x1="34" y1="671.23" x2="38.2" y2="671.23" stroke="#000" stroke-width="1.1"/>
<text x="32.8" y="674.83" font-size="10" text-anchor="end">0.10</text>
<line x1="34" y1="708.27" x2="38.2" y2="708.27" stroke="#000" stroke-width="1.1"/>
<text x="32.8" y="711.87" font-size="10" text-anchor="end">0.05</text>
<line x1="34" y1="745.3" x2="38.2" y2="745.3" stroke="#000" stroke-width="1.1"/>
<text x="32.8" y="748.9" font-size="10" text-anchor="end">0.00</text>
<line x1="38.2" y1="745.3" x2="38.2" y2="748.5" stroke="#000" stroke-width="1.1"/>
<text x="39.6" y="758.8" font-size="9.6" text-anchor="middle">500</text>
<line x1="65.97" y1="745.3" x2="65.97" y2="748.5" stroke="#000" stroke-width="1.1"/>
<text x="67.38" y="758.8" font-size="9.6" text-anchor="middle">550</text>
<line x1="93.75" y1="745.3" x2="93.75" y2="748.5" stroke="#000" stroke-width="1.1"/>
<text x="95.15" y="758.8" font-size="9.6" text-anchor="middle">600</text>
<line x1="121.53" y1="745.3" x2="121.53" y2="748.5" stroke="#000" stroke-width="1.1"/>
<text x="122.93" y="758.8" font-size="9.6" text-anchor="middle">650</text>
<line x1="149.3" y1="745.3" x2="149.3" y2="748.5" stroke="#000" stroke-width="1.1"/>
<text x="150.7" y="758.8" font-size="9.6" text-anchor="middle">700</text>
<path d="M38.2 733.22 L39.57 732.57 L40.94 731.82 L42.31 730.98 L43.68 730.05 L45.06 729.04 L46.43 727.95 L47.8 726.79 L49.17 725.55 L50.54 724.24 L51.91 722.87 L53.28 721.44 L54.65 719.95 L56.03 718.41 L57.4 716.82 L58.77 715.19 L60.14 713.51 L61.51 711.8 L62.88 710.05 L64.25 708.27 L65.62 706.47 L66.99 704.64 L68.37 702.78 L69.74 700.85 L71.11 698.85 L72.48 696.74 L73.85 694.51 L75.22 692.14 L76.59 689.59 L77.96 686.86 L79.34 683.91 L80.71 680.74 L82.08 677.4 L83.45 674.02 L84.82 670.71 L86.19 667.6 L87.56 664.82 L88.93 662.47 L90.3 660.61 L91.68 659.25 L93.05 658.39 L94.42 658.02 L95.79 658.08 L97.16 658.45 L98.53 659.02 L99.9 659.67 L101.27 660.27 L102.65 660.73 L104.02 660.94 L105.39 660.83 L106.76 660.49 L108.13 660.01 L109.5 659.49 L110.87 659 L112.24 658.63 L113.61 658.42 L114.99 658.41 L116.36 658.62 L117.73 659.14 L119.1 660.04 L120.47 661.44 L121.84 663.43 L123.21 666.05 L124.58 669.24 L125.95 672.9 L127.33 676.95 L128.7 681.29 L130.07 685.87 L131.44 690.6 L132.81 695.43 L134.18 700.29 L135.55 705.1 L136.92 709.79 L138.3 714.3 L139.67 718.53 L141.04 722.41 L142.41 725.86 L143.78 728.79 L145.15 731.14 L146.52 732.81" stroke="#22dd22" stroke-width="1.1" fill="none" stroke-linejoin="round" stroke-linecap="round"/>
<path d="M38.2 732.05 L39.57 731.42 L40.94 730.68 L42.31 729.83 L43.68 728.88 L45.06 727.83 L46.43 726.68 L47.8 725.45 L49.17 724.14 L50.54 722.75 L51.91 721.29 L53.28 719.77 L54.65 718.19 L56.03 716.56 L57.4 714.89 L58.77 713.17 L60.14 711.42 L61.51 709.64 L62.88 707.84 L64.25 706.02 L65.62 704.19 L66.99 702.35 L68.37 700.49 L69.74 698.58 L71.11 696.59 L72.48 694.51 L73.85 692.3 L75.22 689.94 L76.59 687.4 L77.96 684.66 L79.34 681.69 L80.71 678.48 L82.08 675.09 L83.45 671.63 L84.82 668.25 L86.19 665.06 L87.56 662.2 L88.93 659.78 L90.3 657.87 L91.68 656.47 L93.05 655.56 L94.42 655.15 L95.79 655.18 L97.16 655.53 L98.53 656.07 L99.9 656.7 L101.27 657.28 L102.65 657.7 L104.02 657.84 L105.39 657.63 L106.76 657.14 L108.13 656.46 L109.5 655.69 L110.87 654.92 L112.24 654.23 L113.61 653.73 L114.99 653.51 L116.36 653.64 L117.73 654.24 L119.1 655.35 L120.47 657.06 L121.84 659.43 L123.21 662.47 L124.58 666.07 L125.95 670.12 L127.33 674.48 L128.7 679.05 L130.07 683.78 L131.44 688.64 L132.81 693.58 L134.18 698.56 L135.55 703.55 L136.92 708.48 L138.3 713.26 L139.67 717.78 L141.04 721.92 L142.41 725.59 L143.78 728.66 L145.15 731.04 L146.52 732.6" stroke="#8cdcff" stroke-width="1.1" fill="none" stroke-linejoin="round" stroke-linecap="round"/>
<path d="M38.2 732.39 L39.57 731.73 L40.94 730.95 L42.31 730.08 L43.68 729.11 L45.06 728.04 L46.43 726.88 L47.8 725.65 L49.17 724.33 L50.54 722.93 L51.91 721.47 L53.28 719.95 L54.65 718.36 L56.03 716.72 L57.4 715.03 L58.77 713.3 L60.14 711.52 L61.51 709.71 L62.88 707.87 L64.25 706.01 L65.62 704.12 L66.99 702.22 L68.37 700.29 L69.74 698.3 L71.11 696.23 L72.48 694.06 L73.85 691.77 L75.22 689.33 L76.59 686.71 L77.96 683.9 L79.34 680.88 L80.71 677.62 L82.08 674.18 L83.45 670.7 L84.82 667.3 L86.19 664.09 L87.56 661.21 L88.93 658.78 L90.3 656.85 L91.68 655.43 L93.05 654.5 L94.42 654.08 L95.79 654.09 L97.16 654.43 L98.53 654.96 L99.9 655.58 L101.27 656.16 L102.65 656.57 L104.02 656.68 L105.39 656.42 L106.76 655.88 L108.13 655.13 L109.5 654.27 L110.87 653.39 L112.24 652.58 L113.61 651.97 L114.99 651.67 L116.36 651.78 L117.73 652.4 L119.1 653.6 L120.47 655.42 L121.84 657.92 L123.21 661.11 L124.58 664.86 L125.95 669.05 L127.33 673.56 L128.7 678.26 L130.07 683.11 L131.44 688.06 L132.81 693.04 L134.18 698.02 L135.55 702.95 L136.92 707.76 L138.3 712.37 L139.67 716.72 L141.04 720.71 L142.41 724.26 L143.78 727.3 L145.15 729.74 L146.52 731.51" stroke="#c48cff" stroke-width="1.1" fill="none" stroke-linejoin="round" stroke-linecap="round"/>
<path d="M38.2 732.87 L39.57 732.18 L40.94 731.39 L42.31 730.51 L43.68 729.54 L45.06 728.48 L46.43 727.34 L47.8 726.11 L49.17 724.81 L50.54 723.44 L51.91 722 L53.28 720.5 L54.65 718.94 L56.03 717.32 L57.4 715.65 L58.77 713.93 L60.14 712.16 L61.51 710.36 L62.88 708.52 L64.25 706.65 L65.62 704.75 L66.99 702.82 L68.37 700.85 L69.74 698.83 L71.11 696.72 L72.48 694.51 L73.85 692.17 L75.22 689.69 L76.59 687.04 L77.96 684.21 L79.34 681.16 L80.71 677.89 L82.08 674.46 L83.45 670.99 L84.82 667.59 L86.19 664.4 L87.56 661.54 L88.93 659.11 L90.3 657.19 L91.68 655.78 L93.05 654.86 L94.42 654.44 L95.79 654.45 L97.16 654.79 L98.53 655.33 L99.9 655.95 L101.27 656.53 L102.65 656.95 L104.02 657.06 L105.39 656.82 L106.76 656.3 L108.13 655.57 L109.5 654.74 L110.87 653.9 L112.24 653.13 L113.61 652.56 L114.99 652.28 L116.36 652.4 L117.73 653.01 L119.1 654.18 L120.47 655.96 L121.84 658.43 L123.21 661.57 L124.58 665.28 L125.95 669.42 L127.33 673.86 L128.7 678.49 L130.07 683.28 L131.44 688.17 L132.81 693.14 L134.18 698.15 L135.55 703.16 L136.92 708.11 L138.3 712.91 L139.67 717.45 L141.04 721.61 L142.41 725.3 L143.78 728.39 L145.15 730.78 L146.52 732.37" stroke="#6a3daa" stroke-width="1.1" fill="none" stroke-linejoin="round" stroke-linecap="round"/>
<path d="M38.2 732.26 L39.57 731.66 L40.94 730.94 L42.31 730.11 L43.68 729.18 L45.06 728.16 L46.43 727.05 L47.8 725.85 L49.17 724.58 L50.54 723.23 L51.91 721.81 L53.28 720.33 L54.65 718.8 L56.03 717.22 L57.4 715.59 L58.77 713.93 L60.14 712.23 L61.51 710.5 L62.88 708.76 L64.25 706.99 L65.62 705.22 L66.99 703.44 L68.37 701.64 L69.74 699.79 L71.11 697.87 L72.48 695.85 L73.85 693.7 L75.22 691.4 L76.59 688.93 L77.96 686.25 L79.34 683.34 L80.71 680.19 L82.08 676.85 L83.45 673.45 L84.82 670.12 L86.19 666.98 L87.56 664.16 L88.93 661.79 L90.3 659.92 L91.68 658.55 L93.05 657.68 L94.42 657.3 L95.79 657.35 L97.16 657.72 L98.53 658.28 L99.9 658.92 L101.27 659.53 L102.65 659.98 L104.02 660.16 L105.39 660.03 L106.76 659.66 L108.13 659.13 L109.5 658.54 L110.87 657.98 L112.24 657.53 L113.61 657.25 L114.99 657.18 L116.36 657.38 L117.73 657.91 L119.1 658.87 L120.47 660.34 L121.84 662.43 L123.21 665.15 L124.58 668.45 L125.95 672.2 L127.33 676.33 L128.7 680.74 L130.07 685.37 L131.44 690.14 L132.81 695 L134.18 699.88 L135.55 704.71 L136.92 709.42 L138.3 713.95 L139.67 718.2 L141.04 722.1 L142.41 725.57 L143.78 728.52 L145.15 730.88 L146.52 732.58" stroke="#1a989c" stroke-width="1.1" fill="none" stroke-linejoin="round" stroke-linecap="round"/>
<path d="M38.2 732.32 L39.57 731.65 L40.94 730.87 L42.31 729.99 L43.68 729 L45.06 727.93 L46.43 726.76 L47.8 725.51 L49.17 724.18 L50.54 722.77 L51.91 721.3 L53.28 719.76 L54.65 718.16 L56.03 716.5 L57.4 714.8 L58.77 713.04 L60.14 711.25 L61.51 709.43 L62.88 707.57 L64.25 705.68 L65.62 703.78 L66.99 701.86 L68.37 699.9 L69.74 697.89 L71.11 695.8 L72.48 693.61 L73.85 691.3 L75.22 688.84 L76.59 686.2 L77.96 683.37 L79.34 680.33 L80.71 677.05 L82.08 673.6 L83.45 670.1 L84.82 666.67 L86.19 663.45 L87.56 660.55 L88.93 658.11 L90.3 656.17 L91.68 654.73 L93.05 653.8 L94.42 653.36 L95.79 653.37 L97.16 653.7 L98.53 654.23 L99.9 654.84 L101.27 655.41 L102.65 655.81 L104.02 655.9 L105.39 655.62 L106.76 655.04 L108.13 654.24 L109.5 653.32 L110.87 652.36 L112.24 651.48 L113.61 650.8 L114.99 650.44 L116.36 650.53 L117.73 651.18 L119.1 652.42 L120.47 654.32 L121.84 656.93 L123.21 660.22 L124.58 664.08 L125.95 668.37 L127.33 672.93 L128.7 677.67 L130.07 682.53 L131.44 687.48 L132.81 692.49 L134.18 697.53 L135.55 702.57 L136.92 707.55 L138.3 712.39 L139.67 716.95 L141.04 721.15 L142.41 724.86 L143.78 727.98 L145.15 730.4 L146.52 732.01" stroke="#ff3d85" stroke-width="1.1" fill="none" stroke-linejoin="round" stroke-linecap="round"/>
<path d="M38.2 733.08 L39.57 732.41 L40.94 731.65 L42.31 730.79 L43.68 729.85 L45.06 728.82 L46.43 727.71 L47.8 726.52 L49.17 725.25 L50.54 723.92 L51.91 722.52 L53.28 721.06 L54.65 719.55 L56.03 717.97 L57.4 716.35 L58.77 714.68 L60.14 712.97 L61.51 711.22 L62.88 709.44 L64.25 707.62 L65.62 705.78 L66.99 703.91 L68.37 702.01 L69.74 700.04 L71.11 698 L72.48 695.85 L73.85 693.58 L75.22 691.16 L76.59 688.57 L77.96 685.8 L79.34 682.81 L80.71 679.6 L82.08 676.22 L83.45 672.8 L84.82 669.46 L86.19 666.32 L87.56 663.5 L88.93 661.13 L90.3 659.25 L91.68 657.86 L93.05 656.98 L94.42 656.59 L95.79 656.63 L97.16 656.99 L98.53 657.54 L99.9 658.18 L101.27 658.78 L102.65 659.22 L104.02 659.39 L105.39 659.23 L106.76 658.82 L108.13 658.24 L109.5 657.59 L110.87 656.96 L112.24 656.43 L113.61 656.08 L114.99 655.95 L116.36 656.13 L117.73 656.69 L119.1 657.7 L120.47 659.25 L121.84 661.43 L123.21 664.26 L124.58 667.65 L125.95 671.5 L127.33 675.71 L128.7 680.19 L130.07 684.86 L131.44 689.68 L132.81 694.56 L134.18 699.46 L135.55 704.32 L136.92 709.05 L138.3 713.6 L139.67 717.87 L141.04 721.79 L142.41 725.28 L143.78 728.25 L145.15 730.63 L146.52 732.34" stroke="#000000" stroke-width="1.1" fill="none" stroke-linejoin="round" stroke-linecap="round"/>
<line x1="144" y1="626.8" x2="157" y2="626.8" stroke="#000000" stroke-width="1.2"/>
<text x="163" y="630.4" font-size="10.1">P 0</text>
<line x1="144" y1="642.27" x2="157" y2="642.27" stroke="#ff3d85" stroke-width="1.2"/>
<text x="163" y="645.87" font-size="10.1">P 1.57</text>
<line x1="144" y1="657.74" x2="157" y2="657.74" stroke="#1a989c" stroke-width="1.2"/>
<text x="163" y="661.34" font-size="10.1">P3.13</text>
<line x1="144" y1="673.21" x2="157" y2="673.21" stroke="#6a3daa" stroke-width="1.2"/>
<text x="163" y="676.81" font-size="10.1">P6.25</text>
<line x1="144" y1="688.68" x2="157" y2="688.68" stroke="#c48cff" stroke-width="1.2"/>
<text x="163" y="692.28" font-size="10.1">P12.5</text>
<line x1="144" y1="704.15" x2="157" y2="704.15" stroke="#8cdcff" stroke-width="1.2"/>
<text x="163" y="707.75" font-size="10.1">P25</text>
<line x1="144" y1="719.62" x2="157" y2="719.62" stroke="#22dd22" stroke-width="1.2"/>
<text x="163" y="723.22" font-size="10.1">P50</text>
<text x="91.4" y="616" font-size="11" text-anchor="middle">6-mer-0S+PIXN</text>
<text x="9.6" y="685.3" font-size="11" text-anchor="middle" transform="rotate(-90 9.6 685.3)">Absorbance</text>
<text x="95" y="772.3" font-size="11" text-anchor="middle">nm</text>
<text x="8.8" y="601.6" font-size="22.5">g</text>
</g>
<!-- panel_h -->
<g id="panel-h">
<path d="M244.1 732.2 L359.8 739.52" stroke="#000" stroke-width="1.2" fill="none" stroke-linejoin="round"/>
<path d="M244.1 731.29 L359.8 711.16" stroke="#ff2d85" stroke-width="1.2" fill="none" stroke-linejoin="round"/>
<path d="M244.1 729.46 L359.8 686.45" stroke="#1a989c" stroke-width="1.2" fill="none" stroke-linejoin="round"/>
<path d="M244.1 732.2 L245.78 732.15 L247.45 731.93 L249.13 731.52 L250.81 730.88 L252.48 730.02 L254.16 728.92 L255.84 727.59 L257.51 726.04 L259.19 724.27 L260.87 722.31 L262.54 720.18 L264.22 717.89 L265.9 715.48 L267.58 712.97 L269.25 710.38 L270.93 707.74 L272.61 705.06 L274.28 702.38 L275.96 699.71 L277.64 697.06 L279.31 694.45 L280.99 691.9 L282.67 689.4 L284.34 686.98 L286.02 684.63 L287.7 682.36 L289.37 680.18 L291.05 678.08 L292.73 676.07 L294.4 674.14 L296.08 672.3 L297.76 670.54 L299.43 668.87 L301.11 667.27 L302.79 665.75 L304.47 664.3 L306.14 662.92 L307.82 661.62 L309.5 660.37 L311.17 659.19 L312.85 658.06 L314.53 657 L316.2 655.98 L317.88 655.02 L319.56 654.1 L321.23 653.23 L322.91 652.4 L324.59 651.61 L326.26 650.86 L327.94 650.14 L329.62 649.46 L331.29 648.81 L332.97 648.2 L334.65 647.61 L336.32 647.05 L338 646.51 L339.68 646 L341.36 645.51 L343.03 645.05 L344.71 644.6 L346.39 644.17 L348.06 643.77 L349.74 643.38 L351.42 643 L353.09 642.65 L354.77 642.31 L356.45 641.98 L358.12 641.66 L359.8 641.36" stroke="#c08aff" stroke-width="1.2" fill="none" stroke-linejoin="round"/>
<path d="M244.1 732.2 L245.78 732.18 L247.45 732.07 L249.13 731.77 L250.81 731.19 L252.48 730.24 L254.16 728.87 L255.84 727.04 L257.51 724.73 L259.19 721.96 L260.87 718.77 L262.54 715.24 L264.22 711.46 L265.9 707.52 L267.58 703.51 L269.25 699.53 L270.93 695.65 L272.61 691.93 L274.28 688.4 L275.96 685.1 L277.64 682.04 L279.31 679.22 L280.99 676.64 L282.67 674.28 L284.34 672.15 L286.02 670.21 L287.7 668.46 L289.37 666.88 L291.05 665.46 L292.73 664.17 L294.4 663 L296.08 661.95 L297.76 661 L299.43 660.14 L301.11 659.36 L302.79 658.65 L304.47 658.01 L306.14 657.43 L307.82 656.89 L309.5 656.41 L311.17 655.96 L312.85 655.56 L314.53 655.19 L316.2 654.84 L317.88 654.53 L319.56 654.24 L321.23 653.98 L322.91 653.73 L324.59 653.5 L326.26 653.29 L327.94 653.1 L329.62 652.92 L331.29 652.75 L332.97 652.59 L334.65 652.45 L336.32 652.31 L338 652.19 L339.68 652.07 L341.36 651.96 L343.03 651.86 L344.71 651.76 L346.39 651.67 L348.06 651.59 L349.74 651.51 L351.42 651.43 L353.09 651.36 L354.77 651.29 L356.45 651.23 L358.12 651.17 L359.8 651.12" stroke="#5a1fa8" stroke-width="1.2" fill="none" stroke-linejoin="round"/>
<path d="M244.1 732.2 L245.78 732.03 L247.45 731.43 L249.13 730.34 L250.81 728.76 L252.48 726.7 L254.16 724.2 L255.84 721.34 L257.51 718.16 L259.19 714.76 L260.87 711.2 L262.54 707.54 L264.22 703.86 L265.9 700.2 L267.58 696.61 L269.25 693.13 L270.93 689.78 L272.61 686.57 L274.28 683.53 L275.96 680.65 L277.64 677.93 L279.31 675.39 L280.99 673 L282.67 670.77 L284.34 668.69 L286.02 666.75 L287.7 664.94 L289.37 663.26 L291.05 661.69 L292.73 660.23 L294.4 658.87 L296.08 657.6 L297.76 656.42 L299.43 655.32 L301.11 654.3 L302.79 653.34 L304.47 652.44 L306.14 651.6 L307.82 650.82 L309.5 650.09 L311.17 649.4 L312.85 648.75 L314.53 648.15 L316.2 647.58 L317.88 647.04 L319.56 646.54 L321.23 646.06 L322.91 645.61 L324.59 645.19 L326.26 644.79 L327.94 644.42 L329.62 644.06 L331.29 643.72 L332.97 643.4 L334.65 643.1 L336.32 642.81 L338 642.54 L339.68 642.28 L341.36 642.03 L343.03 641.8 L344.71 641.57 L346.39 641.36 L348.06 641.16 L349.74 640.96 L351.42 640.78 L353.09 640.6 L354.77 640.44 L356.45 640.27 L358.12 640.12 L359.8 639.97" stroke="#7dd3fb" stroke-width="1.2" fill="none" stroke-linejoin="round"/>
<line x1="251.34" y1="738.06" x2="251.34" y2="744.64" stroke="#000" stroke-width="1.1"/>
<line x1="248.74" y1="738.06" x2="253.94" y2="738.06" stroke="#000" stroke-width="1.1"/>
<line x1="248.74" y1="744.64" x2="253.94" y2="744.64" stroke="#000" stroke-width="1.1"/>
<line x1="258.56" y1="735.86" x2="258.56" y2="745.01" stroke="#000" stroke-width="1.1"/>
<line x1="255.96" y1="735.86" x2="261.16" y2="735.86" stroke="#000" stroke-width="1.1"/>
<line x1="255.96" y1="745.01" x2="261.16" y2="745.01" stroke="#000" stroke-width="1.1"/>
<line x1="273.02" y1="736.78" x2="273.02" y2="745.93" stroke="#000" stroke-width="1.1"/>
<line x1="270.42" y1="736.78" x2="275.62" y2="736.78" stroke="#000" stroke-width="1.1"/>
<line x1="270.42" y1="745.93" x2="275.62" y2="745.93" stroke="#000" stroke-width="1.1"/>
<circle cx="245.9" cy="734.03" r="2.6" fill="#000"/>
<circle cx="251.34" cy="741.35" r="2.6" fill="#000"/>
<circle cx="258.56" cy="740.44" r="2.6" fill="#000"/>
<circle cx="273.02" cy="741.35" r="2.6" fill="#000"/>
<circle cx="301.95" cy="747.76" r="2.6" fill="#000"/>
<circle cx="359.8" cy="731.29" r="2.6" fill="#000"/>
<line x1="245.9" y1="724.88" x2="245.9" y2="732.2" stroke="#1a989c" stroke-width="1.1"/>
<line x1="243.3" y1="724.88" x2="248.5" y2="724.88" stroke="#1a989c" stroke-width="1.1"/>
<line x1="243.3" y1="732.2" x2="248.5" y2="732.2" stroke="#1a989c" stroke-width="1.1"/>
<line x1="251.34" y1="712.99" x2="251.34" y2="729.46" stroke="#1a989c" stroke-width="1.1"/>
<line x1="248.74" y1="712.99" x2="253.94" y2="712.99" stroke="#1a989c" stroke-width="1.1"/>
<line x1="248.74" y1="729.46" x2="253.94" y2="729.46" stroke="#1a989c" stroke-width="1.1"/>
<line x1="258.56" y1="719.39" x2="258.56" y2="726.71" stroke="#1a989c" stroke-width="1.1"/>
<line x1="255.96" y1="719.39" x2="261.16" y2="719.39" stroke="#1a989c" stroke-width="1.1"/>
<line x1="255.96" y1="726.71" x2="261.16" y2="726.71" stroke="#1a989c" stroke-width="1.1"/>
<line x1="273.02" y1="716.64" x2="273.02" y2="725.8" stroke="#1a989c" stroke-width="1.1"/>
<line x1="270.42" y1="716.64" x2="275.62" y2="716.64" stroke="#1a989c" stroke-width="1.1"/>
<line x1="270.42" y1="725.8" x2="275.62" y2="725.8" stroke="#1a989c" stroke-width="1.1"/>
<line x1="301.95" y1="706.58" x2="301.95" y2="713.9" stroke="#1a989c" stroke-width="1.1"/>
<line x1="299.35" y1="706.58" x2="304.55" y2="706.58" stroke="#1a989c" stroke-width="1.1"/>
<line x1="299.35" y1="713.9" x2="304.55" y2="713.9" stroke="#1a989c" stroke-width="1.1"/>
<line x1="359.8" y1="678.22" x2="359.8" y2="694.69" stroke="#1a989c" stroke-width="1.1"/>
<line x1="357.2" y1="678.22" x2="362.4" y2="678.22" stroke="#1a989c" stroke-width="1.1"/>
<line x1="357.2" y1="694.69" x2="362.4" y2="694.69" stroke="#1a989c" stroke-width="1.1"/>
<path d="M245.9 725.84 L248.6 730.7 L243.2 730.7 Z" stroke="none" stroke-width="0" fill="#1a989c"/>
<path d="M251.34 718.52 L254.04 723.38 L248.64 723.38 Z" stroke="none" stroke-width="0" fill="#1a989c"/>
<path d="M258.56 720.35 L261.26 725.21 L255.86 725.21 Z" stroke="none" stroke-width="0" fill="#1a989c"/>
<path d="M273.02 718.52 L275.72 723.38 L270.32 723.38 Z" stroke="none" stroke-width="0" fill="#1a989c"/>
<path d="M301.95 707.54 L304.65 712.4 L299.25 712.4 Z" stroke="none" stroke-width="0" fill="#1a989c"/>
<path d="M359.8 683.75 L362.5 688.61 L357.1 688.61 Z" stroke="none" stroke-width="0" fill="#1a989c"/>
<line x1="251.34" y1="720.31" x2="251.34" y2="725.8" stroke="#ff2d85" stroke-width="1.1"/>
<line x1="248.74" y1="720.31" x2="253.94" y2="720.31" stroke="#ff2d85" stroke-width="1.1"/>
<line x1="248.74" y1="725.8" x2="253.94" y2="725.8" stroke="#ff2d85" stroke-width="1.1"/>
<line x1="258.56" y1="713.9" x2="258.56" y2="723.05" stroke="#ff2d85" stroke-width="1.1"/>
<line x1="255.96" y1="713.9" x2="261.16" y2="713.9" stroke="#ff2d85" stroke-width="1.1"/>
<line x1="255.96" y1="723.05" x2="261.16" y2="723.05" stroke="#ff2d85" stroke-width="1.1"/>
<line x1="273.02" y1="712.99" x2="273.02" y2="722.13" stroke="#ff2d85" stroke-width="1.1"/>
<line x1="270.42" y1="712.99" x2="275.62" y2="712.99" stroke="#ff2d85" stroke-width="1.1"/>
<line x1="270.42" y1="722.13" x2="275.62" y2="722.13" stroke="#ff2d85" stroke-width="1.1"/>
<line x1="301.95" y1="723.05" x2="301.95" y2="728.54" stroke="#ff2d85" stroke-width="1.1"/>
<line x1="299.35" y1="723.05" x2="304.55" y2="723.05" stroke="#ff2d85" stroke-width="1.1"/>
<line x1="299.35" y1="728.54" x2="304.55" y2="728.54" stroke="#ff2d85" stroke-width="1.1"/>
<line x1="359.8" y1="707.86" x2="359.8" y2="716.28" stroke="#ff2d85" stroke-width="1.1"/>
<line x1="357.2" y1="707.86" x2="362.4" y2="707.86" stroke="#ff2d85" stroke-width="1.1"/>
<line x1="357.2" y1="716.28" x2="362.4" y2="716.28" stroke="#ff2d85" stroke-width="1.1"/>
<rect x="244.83" y="725.64" width="5.8" height="5.8" fill="#ff2d85"/>
<rect x="248.44" y="720.15" width="5.8" height="5.8" fill="#ff2d85"/>
<rect x="255.66" y="715.58" width="5.8" height="5.8" fill="#ff2d85"/>
<rect x="270.12" y="714.66" width="5.8" height="5.8" fill="#ff2d85"/>
<rect x="299.05" y="722.9" width="5.8" height="5.8" fill="#ff2d85"/>
<rect x="356.9" y="709.17" width="5.8" height="5.8" fill="#ff2d85"/>
<line x1="258.56" y1="711.16" x2="258.56" y2="716.64" stroke="#5a1fa8" stroke-width="1.1"/>
<line x1="255.96" y1="711.16" x2="261.16" y2="711.16" stroke="#5a1fa8" stroke-width="1.1"/>
<line x1="255.96" y1="716.64" x2="261.16" y2="716.64" stroke="#5a1fa8" stroke-width="1.1"/>
<line x1="273.02" y1="689.2" x2="273.02" y2="698.35" stroke="#5a1fa8" stroke-width="1.1"/>
<line x1="270.42" y1="689.2" x2="275.62" y2="689.2" stroke="#5a1fa8" stroke-width="1.1"/>
<line x1="270.42" y1="698.35" x2="275.62" y2="698.35" stroke="#5a1fa8" stroke-width="1.1"/>
<line x1="301.95" y1="645.82" x2="301.95" y2="650.22" stroke="#5a1fa8" stroke-width="1.1"/>
<line x1="299.35" y1="645.82" x2="304.55" y2="645.82" stroke="#5a1fa8" stroke-width="1.1"/>
<line x1="299.35" y1="650.22" x2="304.55" y2="650.22" stroke="#5a1fa8" stroke-width="1.1"/>
<path d="M247.73 731.34 L250.53 726.3 L244.93 726.3 Z" stroke="none" stroke-width="0" fill="#5a1fa8"/>
<path d="M258.56 716.7 L261.36 711.66 L255.76 711.66 Z" stroke="none" stroke-width="0" fill="#5a1fa8"/>
<path d="M273.02 696.57 L275.82 691.53 L270.22 691.53 Z" stroke="none" stroke-width="0" fill="#5a1fa8"/>
<path d="M301.95 650.82 L304.75 645.78 L299.15 645.78 Z" stroke="none" stroke-width="0" fill="#5a1fa8"/>
<path d="M359.8 659.05 L362.6 654.01 L357 654.01 Z" stroke="none" stroke-width="0" fill="#5a1fa8"/>
<line x1="258.56" y1="710.79" x2="258.56" y2="715.18" stroke="#7dd3fb" stroke-width="1.1"/>
<line x1="255.96" y1="710.79" x2="261.16" y2="710.79" stroke="#7dd3fb" stroke-width="1.1"/>
<line x1="255.96" y1="715.18" x2="261.16" y2="715.18" stroke="#7dd3fb" stroke-width="1.1"/>
<line x1="273.02" y1="680.59" x2="273.02" y2="688.65" stroke="#7dd3fb" stroke-width="1.1"/>
<line x1="270.42" y1="680.59" x2="275.62" y2="680.59" stroke="#7dd3fb" stroke-width="1.1"/>
<line x1="270.42" y1="688.65" x2="275.62" y2="688.65" stroke="#7dd3fb" stroke-width="1.1"/>
<line x1="301.95" y1="650.76" x2="301.95" y2="656.25" stroke="#7dd3fb" stroke-width="1.1"/>
<line x1="299.35" y1="650.76" x2="304.55" y2="650.76" stroke="#7dd3fb" stroke-width="1.1"/>
<line x1="299.35" y1="656.25" x2="304.55" y2="656.25" stroke="#7dd3fb" stroke-width="1.1"/>
<line x1="359.8" y1="637.04" x2="359.8" y2="640.7" stroke="#7dd3fb" stroke-width="1.1"/>
<line x1="357.2" y1="637.04" x2="362.4" y2="637.04" stroke="#7dd3fb" stroke-width="1.1"/>
<line x1="357.2" y1="640.7" x2="362.4" y2="640.7" stroke="#7dd3fb" stroke-width="1.1"/>
<circle cx="245.9" cy="730.37" r="3.8" fill="#7dd3fb"/>
<circle cx="247.73" cy="728.54" r="3.8" fill="#7dd3fb"/>
<circle cx="251.34" cy="724.88" r="3.8" fill="#7dd3fb"/>
<circle cx="258.56" cy="712.99" r="3.8" fill="#7dd3fb"/>
<circle cx="273.02" cy="684.62" r="3.8" fill="#7dd3fb"/>
<circle cx="301.95" cy="653.51" r="3.8" fill="#7dd3fb"/>
<circle cx="359.8" cy="638.87" r="3.8" fill="#7dd3fb"/>
<line x1="258.56" y1="715.73" x2="258.56" y2="723.05" stroke="#c08aff" stroke-width="1.1"/>
<line x1="255.96" y1="715.73" x2="261.16" y2="715.73" stroke="#c08aff" stroke-width="1.1"/>
<line x1="255.96" y1="723.05" x2="261.16" y2="723.05" stroke="#c08aff" stroke-width="1.1"/>
<line x1="273.02" y1="697.43" x2="273.02" y2="708.41" stroke="#c08aff" stroke-width="1.1"/>
<line x1="270.42" y1="697.43" x2="275.62" y2="697.43" stroke="#c08aff" stroke-width="1.1"/>
<line x1="270.42" y1="708.41" x2="275.62" y2="708.41" stroke="#c08aff" stroke-width="1.1"/>
<line x1="301.95" y1="658.09" x2="301.95" y2="672.73" stroke="#c08aff" stroke-width="1.1"/>
<line x1="299.35" y1="658.09" x2="304.55" y2="658.09" stroke="#c08aff" stroke-width="1.1"/>
<line x1="299.35" y1="672.73" x2="304.55" y2="672.73" stroke="#c08aff" stroke-width="1.1"/>
<line x1="359.8" y1="636.12" x2="359.8" y2="643.44" stroke="#c08aff" stroke-width="1.1"/>
<line x1="357.2" y1="636.12" x2="362.4" y2="636.12" stroke="#c08aff" stroke-width="1.1"/>
<line x1="357.2" y1="643.44" x2="362.4" y2="643.44" stroke="#c08aff" stroke-width="1.1"/>
<path d="M245.9 728 L247.8 730.37 L245.9 732.75 L244 730.37 Z" stroke="none" stroke-width="0" fill="#c08aff"/>
<path d="M251.34 724.34 L253.24 726.71 L251.34 729.09 L249.44 726.71 Z" stroke="none" stroke-width="0" fill="#c08aff"/>
<path d="M258.56 717.01 L260.46 719.39 L258.56 721.76 L256.66 719.39 Z" stroke="none" stroke-width="0" fill="#c08aff"/>
<path d="M273.02 700.55 L274.92 702.92 L273.02 705.3 L271.12 702.92 Z" stroke="none" stroke-width="0" fill="#c08aff"/>
<path d="M301.95 663.03 L303.85 665.4 L301.95 667.78 L300.05 665.4 Z" stroke="none" stroke-width="0" fill="#c08aff"/>
<path d="M359.8 637.41 L361.7 639.78 L359.8 642.16 L357.9 639.78 Z" stroke="none" stroke-width="0" fill="#c08aff"/>
<line x1="244.1" y1="621.8" x2="244.1" y2="750.8" stroke="#000" stroke-width="1.3"/>
<line x1="243.5" y1="732.2" x2="371.5" y2="732.2" stroke="#000" stroke-width="1.3"/>
<line x1="240.1" y1="622.4" x2="244.1" y2="622.4" stroke="#000" stroke-width="1.3"/>
<text x="238.6" y="625.8" font-size="9.3" text-anchor="end">60</text>
<line x1="240.1" y1="659" x2="244.1" y2="659" stroke="#000" stroke-width="1.3"/>
<text x="238.6" y="662.4" font-size="9.3" text-anchor="end">40</text>
<line x1="240.1" y1="695.6" x2="244.1" y2="695.6" stroke="#000" stroke-width="1.3"/>
<text x="238.6" y="699" font-size="9.3" text-anchor="end">20</text>
<line x1="240.1" y1="732.2" x2="244.1" y2="732.2" stroke="#000" stroke-width="1.3"/>
<text x="238.6" y="735.6" font-size="9.3" text-anchor="end">0</text>
<line x1="273.02" y1="732.2" x2="273.02" y2="734.7" stroke="#000" stroke-width="1.3"/>
<line x1="301.95" y1="732.2" x2="301.95" y2="735.7" stroke="#000" stroke-width="1.3"/>
<text x="301.95" y="747.2" font-size="9.3" text-anchor="middle">25</text>
<line x1="330.88" y1="732.2" x2="330.88" y2="734.7" stroke="#000" stroke-width="1.3"/>
<line x1="359.8" y1="732.2" x2="359.8" y2="735.7" stroke="#000" stroke-width="1.3"/>
<text x="358.6" y="747.2" font-size="9.3" text-anchor="middle">50</text>
<text x="372.3" y="641.1" font-size="11.3">NS2S3S6S (8)</text>
<text x="372.3" y="650.3" font-size="11.3">NS2S6S (7)</text>
<text x="372.3" y="658.1" font-size="11.3">NS6S (6)</text>
<text x="372.3" y="687.3" font-size="11.3">NS2S (4)</text>
<text x="372.3" y="710.8" font-size="11.3">NS (3)</text>
<text x="372.3" y="738.3" font-size="11.3">0S (0)</text>
<text x="301" y="616" font-size="10.5" text-anchor="middle">MTAN</text>
<text x="221.8" y="679" font-size="12.5" text-anchor="middle" transform="rotate(-90 221.8 679)">Ab reduction (%)</text>
<text x="304.2" y="763.5" font-size="11" text-anchor="middle">Concentration(μM)</text>
<text x="202" y="600.4" font-size="22.5">h</text>
</g>
<!-- panel_i -->
<g id="panel-i">
<path d="M486.4 730.6 L596.5 734.62" stroke="#5a1fa8" stroke-width="1.2" fill="none" stroke-linejoin="round"/>
<path d="M486.4 730.6 L596.5 714.52" stroke="#c08aff" stroke-width="1.2" fill="none" stroke-linejoin="round"/>
<path d="M486.4 729.26 L596.5 710.5" stroke="#7dd3fb" stroke-width="1.2" fill="none" stroke-linejoin="round"/>
<path d="M488.6 728.46 L490.17 726.74 L491.73 725.02 L493.29 723.33 L494.86 721.68 L496.42 720.08 L497.98 718.55 L499.55 717.07 L501.11 715.66 L502.68 714.31 L504.24 713.01 L505.8 711.77 L507.37 710.59 L508.93 709.45 L510.49 708.37 L512.06 707.33 L513.62 706.34 L515.19 705.39 L516.75 704.47 L518.31 703.6 L519.88 702.76 L521.44 701.96 L523 701.19 L524.57 700.45 L526.13 699.74 L527.7 699.05 L529.26 698.4 L530.82 697.76 L532.39 697.15 L533.95 696.57 L535.51 696 L537.08 695.45 L538.64 694.93 L540.21 694.42 L541.77 693.93 L543.33 693.45 L544.9 693 L546.46 692.55 L548.02 692.12 L549.59 691.71 L551.15 691.31 L552.72 690.92 L554.28 690.54 L555.84 690.17 L557.41 689.82 L558.97 689.47 L560.53 689.14 L562.1 688.82 L563.66 688.5 L565.23 688.19 L566.79 687.9 L568.35 687.61 L569.92 687.33 L571.48 687.05 L573.04 686.78 L574.61 686.53 L576.17 686.27 L577.74 686.03 L579.3 685.79 L580.86 685.55 L582.43 685.32 L583.99 685.1 L585.55 684.89 L587.12 684.67 L588.68 684.47 L590.25 684.27 L591.81 684.07 L593.37 683.88 L594.94 683.69 L596.5 683.51" stroke="#000" stroke-width="1.2" fill="none" stroke-linejoin="round"/>
<path d="M488.6 728.16 L490.17 726.07 L491.73 723.9 L493.29 721.72 L494.86 719.55 L496.42 717.41 L497.98 715.33 L499.55 713.3 L501.11 711.33 L502.68 709.42 L504.24 707.58 L505.8 705.8 L507.37 704.09 L508.93 702.43 L510.49 700.84 L512.06 699.31 L513.62 697.84 L515.19 696.42 L516.75 695.05 L518.31 693.74 L519.88 692.47 L521.44 691.25 L523 690.07 L524.57 688.94 L526.13 687.85 L527.7 686.8 L529.26 685.78 L530.82 684.8 L532.39 683.86 L533.95 682.95 L535.51 682.06 L537.08 681.21 L538.64 680.39 L540.21 679.59 L541.77 678.82 L543.33 678.08 L544.9 677.35 L546.46 676.66 L548.02 675.98 L549.59 675.32 L551.15 674.69 L552.72 674.07 L554.28 673.47 L555.84 672.89 L557.41 672.33 L558.97 671.78 L560.53 671.25 L562.1 670.73 L563.66 670.23 L565.23 669.74 L566.79 669.27 L568.35 668.81 L569.92 668.36 L571.48 667.92 L573.04 667.5 L574.61 667.08 L576.17 666.68 L577.74 666.28 L579.3 665.9 L580.86 665.52 L582.43 665.16 L583.99 664.8 L585.55 664.46 L587.12 664.12 L588.68 663.79 L590.25 663.46 L591.81 663.15 L593.37 662.84 L594.94 662.54 L596.5 662.24" stroke="#ff2d85" stroke-width="1.2" fill="none" stroke-linejoin="round"/>
<path d="M487.5 730.18 L489.08 728.19 L490.66 724.75 L492.24 720.21 L493.82 714.95 L495.4 709.33 L496.98 703.67 L498.56 698.17 L500.14 692.98 L501.72 688.19 L503.3 683.82 L504.88 679.88 L506.46 676.34 L508.04 673.18 L509.62 670.37 L511.2 667.86 L512.78 665.62 L514.36 663.63 L515.94 661.85 L517.52 660.26 L519.09 658.84 L520.67 657.56 L522.25 656.4 L523.83 655.36 L525.41 654.42 L526.99 653.57 L528.57 652.79 L530.15 652.09 L531.73 651.44 L533.31 650.85 L534.89 650.31 L536.47 649.82 L538.05 649.36 L539.63 648.94 L541.21 648.55 L542.79 648.19 L544.37 647.85 L545.95 647.54 L547.53 647.25 L549.11 646.98 L550.69 646.73 L552.27 646.5 L553.85 646.28 L555.43 646.07 L557.01 645.88 L558.59 645.7 L560.17 645.53 L561.75 645.37 L563.33 645.22 L564.91 645.08 L566.49 644.94 L568.07 644.81 L569.65 644.69 L571.22 644.58 L572.8 644.47 L574.38 644.37 L575.96 644.27 L577.54 644.18 L579.12 644.09 L580.7 644.01 L582.28 643.93 L583.86 643.85 L585.44 643.78 L587.02 643.71 L588.6 643.64 L590.18 643.58 L591.76 643.52 L593.34 643.46 L594.92 643.4 L596.5 643.35" stroke="#1a989c" stroke-width="1.2" fill="none" stroke-linejoin="round"/>
<line x1="513.92" y1="732.88" x2="513.92" y2="740.38" stroke="#000" stroke-width="1.1"/>
<line x1="511.32" y1="732.88" x2="516.52" y2="732.88" stroke="#000" stroke-width="1.1"/>
<line x1="511.32" y1="740.38" x2="516.52" y2="740.38" stroke="#000" stroke-width="1.1"/>
<line x1="596.5" y1="728.59" x2="596.5" y2="735.29" stroke="#000" stroke-width="1.1"/>
<line x1="593.9" y1="728.59" x2="599.1" y2="728.59" stroke="#000" stroke-width="1.1"/>
<line x1="593.9" y1="735.29" x2="599.1" y2="735.29" stroke="#000" stroke-width="1.1"/>
<circle cx="489.86" cy="736.63" r="2.6" fill="#000"/>
<circle cx="493.29" cy="736.63" r="2.6" fill="#000"/>
<circle cx="500.16" cy="736.63" r="2.6" fill="#000"/>
<circle cx="513.92" cy="736.63" r="2.6" fill="#000"/>
<circle cx="541.45" cy="733.28" r="2.6" fill="#000"/>
<circle cx="596.5" cy="731.94" r="2.6" fill="#000"/>
<line x1="500.16" y1="729.93" x2="500.16" y2="733.95" stroke="#1a989c" stroke-width="1.1"/>
<line x1="497.56" y1="729.93" x2="502.76" y2="729.93" stroke="#1a989c" stroke-width="1.1"/>
<line x1="497.56" y1="733.95" x2="502.76" y2="733.95" stroke="#1a989c" stroke-width="1.1"/>
<line x1="513.92" y1="722.56" x2="513.92" y2="727.92" stroke="#1a989c" stroke-width="1.1"/>
<line x1="511.32" y1="722.56" x2="516.52" y2="722.56" stroke="#1a989c" stroke-width="1.1"/>
<line x1="511.32" y1="727.92" x2="516.52" y2="727.92" stroke="#1a989c" stroke-width="1.1"/>
<line x1="541.45" y1="715.86" x2="541.45" y2="718.54" stroke="#1a989c" stroke-width="1.1"/>
<line x1="538.85" y1="715.86" x2="544.05" y2="715.86" stroke="#1a989c" stroke-width="1.1"/>
<line x1="538.85" y1="718.54" x2="544.05" y2="718.54" stroke="#1a989c" stroke-width="1.1"/>
<line x1="596.5" y1="710.5" x2="596.5" y2="713.18" stroke="#1a989c" stroke-width="1.1"/>
<line x1="593.9" y1="710.5" x2="599.1" y2="710.5" stroke="#1a989c" stroke-width="1.1"/>
<line x1="593.9" y1="713.18" x2="599.1" y2="713.18" stroke="#1a989c" stroke-width="1.1"/>
<path d="M493.29 723.88 L495.99 728.74 L490.59 728.74 Z" stroke="none" stroke-width="0" fill="#1a989c"/>
<path d="M500.16 729.24 L502.86 734.1 L497.46 734.1 Z" stroke="none" stroke-width="0" fill="#1a989c"/>
<path d="M513.92 722.54 L516.62 727.4 L511.22 727.4 Z" stroke="none" stroke-width="0" fill="#1a989c"/>
<path d="M541.45 714.5 L544.15 719.36 L538.75 719.36 Z" stroke="none" stroke-width="0" fill="#1a989c"/>
<path d="M596.5 709.14 L599.2 714 L593.8 714 Z" stroke="none" stroke-width="0" fill="#1a989c"/>
<line x1="493.29" y1="724.57" x2="493.29" y2="728.59" stroke="#ff2d85" stroke-width="1.1"/>
<line x1="490.69" y1="724.57" x2="495.89" y2="724.57" stroke="#ff2d85" stroke-width="1.1"/>
<line x1="490.69" y1="728.59" x2="495.89" y2="728.59" stroke="#ff2d85" stroke-width="1.1"/>
<line x1="500.16" y1="719.21" x2="500.16" y2="727.25" stroke="#ff2d85" stroke-width="1.1"/>
<line x1="497.56" y1="719.21" x2="502.76" y2="719.21" stroke="#ff2d85" stroke-width="1.1"/>
<line x1="497.56" y1="727.25" x2="502.76" y2="727.25" stroke="#ff2d85" stroke-width="1.1"/>
<line x1="513.92" y1="718.54" x2="513.92" y2="726.58" stroke="#ff2d85" stroke-width="1.1"/>
<line x1="511.32" y1="718.54" x2="516.52" y2="718.54" stroke="#ff2d85" stroke-width="1.1"/>
<line x1="511.32" y1="726.58" x2="516.52" y2="726.58" stroke="#ff2d85" stroke-width="1.1"/>
<line x1="541.45" y1="719.21" x2="541.45" y2="725.91" stroke="#ff2d85" stroke-width="1.1"/>
<line x1="538.85" y1="719.21" x2="544.05" y2="719.21" stroke="#ff2d85" stroke-width="1.1"/>
<line x1="538.85" y1="725.91" x2="544.05" y2="725.91" stroke="#ff2d85" stroke-width="1.1"/>
<line x1="596.5" y1="711.84" x2="596.5" y2="719.88" stroke="#ff2d85" stroke-width="1.1"/>
<line x1="593.9" y1="711.84" x2="599.1" y2="711.84" stroke="#ff2d85" stroke-width="1.1"/>
<line x1="593.9" y1="719.88" x2="599.1" y2="719.88" stroke="#ff2d85" stroke-width="1.1"/>
<rect x="486.96" y="726.36" width="5.8" height="5.8" fill="#ff2d85"/>
<rect x="490.39" y="723.68" width="5.8" height="5.8" fill="#ff2d85"/>
<rect x="497.26" y="720.33" width="5.8" height="5.8" fill="#ff2d85"/>
<rect x="511.02" y="719.66" width="5.8" height="5.8" fill="#ff2d85"/>
<rect x="538.55" y="719.66" width="5.8" height="5.8" fill="#ff2d85"/>
<rect x="593.6" y="712.96" width="5.8" height="5.8" fill="#ff2d85"/>
<line x1="500.16" y1="707.82" x2="500.16" y2="726.58" stroke="#c08aff" stroke-width="1.1"/>
<line x1="497.56" y1="707.82" x2="502.76" y2="707.82" stroke="#c08aff" stroke-width="1.1"/>
<line x1="497.56" y1="726.58" x2="502.76" y2="726.58" stroke="#c08aff" stroke-width="1.1"/>
<line x1="513.92" y1="687.05" x2="513.92" y2="715.19" stroke="#c08aff" stroke-width="1.1"/>
<line x1="511.32" y1="687.05" x2="516.52" y2="687.05" stroke="#c08aff" stroke-width="1.1"/>
<line x1="511.32" y1="715.19" x2="516.52" y2="715.19" stroke="#c08aff" stroke-width="1.1"/>
<line x1="541.45" y1="668.96" x2="541.45" y2="690.4" stroke="#c08aff" stroke-width="1.1"/>
<line x1="538.85" y1="668.96" x2="544.05" y2="668.96" stroke="#c08aff" stroke-width="1.1"/>
<line x1="538.85" y1="690.4" x2="544.05" y2="690.4" stroke="#c08aff" stroke-width="1.1"/>
<line x1="596.5" y1="655.56" x2="596.5" y2="670.3" stroke="#c08aff" stroke-width="1.1"/>
<line x1="593.9" y1="655.56" x2="599.1" y2="655.56" stroke="#c08aff" stroke-width="1.1"/>
<line x1="593.9" y1="670.3" x2="599.1" y2="670.3" stroke="#c08aff" stroke-width="1.1"/>
<path d="M489.86 724.21 L491.76 726.58 L489.86 728.96 L487.96 726.58 Z" stroke="none" stroke-width="0" fill="#c08aff"/>
<path d="M500.16 714.83 L502.06 717.2 L500.16 719.58 L498.26 717.2 Z" stroke="none" stroke-width="0" fill="#c08aff"/>
<path d="M513.92 698.75 L515.82 701.12 L513.92 703.5 L512.02 701.12 Z" stroke="none" stroke-width="0" fill="#c08aff"/>
<path d="M541.45 677.3 L543.35 679.68 L541.45 682.05 L539.55 679.68 Z" stroke="none" stroke-width="0" fill="#c08aff"/>
<path d="M596.5 660.55 L598.4 662.93 L596.5 665.3 L594.6 662.93 Z" stroke="none" stroke-width="0" fill="#c08aff"/>
<line x1="500.16" y1="715.86" x2="500.16" y2="721.22" stroke="#5a1fa8" stroke-width="1.1"/>
<line x1="497.56" y1="715.86" x2="502.76" y2="715.86" stroke="#5a1fa8" stroke-width="1.1"/>
<line x1="497.56" y1="721.22" x2="502.76" y2="721.22" stroke="#5a1fa8" stroke-width="1.1"/>
<line x1="513.92" y1="703.13" x2="513.92" y2="717.87" stroke="#5a1fa8" stroke-width="1.1"/>
<line x1="511.32" y1="703.13" x2="516.52" y2="703.13" stroke="#5a1fa8" stroke-width="1.1"/>
<line x1="511.32" y1="717.87" x2="516.52" y2="717.87" stroke="#5a1fa8" stroke-width="1.1"/>
<line x1="541.45" y1="689.06" x2="541.45" y2="699.78" stroke="#5a1fa8" stroke-width="1.1"/>
<line x1="538.85" y1="689.06" x2="544.05" y2="689.06" stroke="#5a1fa8" stroke-width="1.1"/>
<line x1="538.85" y1="699.78" x2="544.05" y2="699.78" stroke="#5a1fa8" stroke-width="1.1"/>
<line x1="596.5" y1="679.95" x2="596.5" y2="687.45" stroke="#5a1fa8" stroke-width="1.1"/>
<line x1="593.9" y1="679.95" x2="599.1" y2="679.95" stroke="#5a1fa8" stroke-width="1.1"/>
<line x1="593.9" y1="687.45" x2="599.1" y2="687.45" stroke="#5a1fa8" stroke-width="1.1"/>
<path d="M489.86 730.72 L492.66 725.68 L487.06 725.68 Z" stroke="none" stroke-width="0" fill="#5a1fa8"/>
<path d="M493.29 729.38 L496.09 724.34 L490.49 724.34 Z" stroke="none" stroke-width="0" fill="#5a1fa8"/>
<path d="M500.16 721.34 L502.96 716.3 L497.36 716.3 Z" stroke="none" stroke-width="0" fill="#5a1fa8"/>
<path d="M513.92 713.3 L516.72 708.26 L511.12 708.26 Z" stroke="none" stroke-width="0" fill="#5a1fa8"/>
<path d="M541.45 697.22 L544.25 692.18 L538.65 692.18 Z" stroke="none" stroke-width="0" fill="#5a1fa8"/>
<path d="M596.5 686.5 L599.3 681.46 L593.7 681.46 Z" stroke="none" stroke-width="0" fill="#5a1fa8"/>
<line x1="488.12" y1="719.21" x2="488.12" y2="723.23" stroke="#7dd3fb" stroke-width="1.1"/>
<line x1="485.52" y1="719.21" x2="490.72" y2="719.21" stroke="#7dd3fb" stroke-width="1.1"/>
<line x1="485.52" y1="723.23" x2="490.72" y2="723.23" stroke="#7dd3fb" stroke-width="1.1"/>
<line x1="493.29" y1="712.51" x2="493.29" y2="716.53" stroke="#7dd3fb" stroke-width="1.1"/>
<line x1="490.69" y1="712.51" x2="495.89" y2="712.51" stroke="#7dd3fb" stroke-width="1.1"/>
<line x1="490.69" y1="716.53" x2="495.89" y2="716.53" stroke="#7dd3fb" stroke-width="1.1"/>
<line x1="500.16" y1="686.11" x2="500.16" y2="694.69" stroke="#7dd3fb" stroke-width="1.1"/>
<line x1="497.56" y1="686.11" x2="502.76" y2="686.11" stroke="#7dd3fb" stroke-width="1.1"/>
<line x1="497.56" y1="694.69" x2="502.76" y2="694.69" stroke="#7dd3fb" stroke-width="1.1"/>
<line x1="513.92" y1="666.28" x2="513.92" y2="668.96" stroke="#7dd3fb" stroke-width="1.1"/>
<line x1="511.32" y1="666.28" x2="516.52" y2="666.28" stroke="#7dd3fb" stroke-width="1.1"/>
<line x1="511.32" y1="668.96" x2="516.52" y2="668.96" stroke="#7dd3fb" stroke-width="1.1"/>
<line x1="541.45" y1="644.84" x2="541.45" y2="647.52" stroke="#7dd3fb" stroke-width="1.1"/>
<line x1="538.85" y1="644.84" x2="544.05" y2="644.84" stroke="#7dd3fb" stroke-width="1.1"/>
<line x1="538.85" y1="647.52" x2="544.05" y2="647.52" stroke="#7dd3fb" stroke-width="1.1"/>
<line x1="596.5" y1="642.16" x2="596.5" y2="644.84" stroke="#7dd3fb" stroke-width="1.1"/>
<line x1="593.9" y1="642.16" x2="599.1" y2="642.16" stroke="#7dd3fb" stroke-width="1.1"/>
<line x1="593.9" y1="644.84" x2="599.1" y2="644.84" stroke="#7dd3fb" stroke-width="1.1"/>
<circle cx="488.12" cy="721.22" r="3.8" fill="#7dd3fb"/>
<circle cx="493.29" cy="714.52" r="3.8" fill="#7dd3fb"/>
<circle cx="500.16" cy="690.4" r="3.8" fill="#7dd3fb"/>
<circle cx="513.92" cy="667.62" r="3.8" fill="#7dd3fb"/>
<circle cx="541.45" cy="646.18" r="3.8" fill="#7dd3fb"/>
<circle cx="596.5" cy="643.5" r="3.8" fill="#7dd3fb"/>
<line x1="486.4" y1="622.8" x2="486.4" y2="743.8" stroke="#000" stroke-width="1.3"/>
<line x1="485.8" y1="730.6" x2="607.5" y2="730.6" stroke="#000" stroke-width="1.3"/>
<line x1="482.4" y1="623.4" x2="486.4" y2="623.4" stroke="#000" stroke-width="1.3"/>
<text x="480.9" y="626.8" font-size="9.3" text-anchor="end">80</text>
<line x1="482.4" y1="650.2" x2="486.4" y2="650.2" stroke="#000" stroke-width="1.3"/>
<text x="480.9" y="653.6" font-size="9.3" text-anchor="end">60</text>
<line x1="482.4" y1="677" x2="486.4" y2="677" stroke="#000" stroke-width="1.3"/>
<text x="480.9" y="680.4" font-size="9.3" text-anchor="end">40</text>
<line x1="482.4" y1="703.8" x2="486.4" y2="703.8" stroke="#000" stroke-width="1.3"/>
<text x="480.9" y="707.2" font-size="9.3" text-anchor="end">20</text>
<line x1="482.4" y1="730.6" x2="486.4" y2="730.6" stroke="#000" stroke-width="1.3"/>
<text x="480.9" y="734" font-size="9.3" text-anchor="end">0</text>
<line x1="513.92" y1="730.6" x2="513.92" y2="733.1" stroke="#000" stroke-width="1.3"/>
<line x1="541.45" y1="730.6" x2="541.45" y2="734.1" stroke="#000" stroke-width="1.3"/>
<text x="541.45" y="745.3" font-size="9.3" text-anchor="middle">25</text>
<line x1="568.98" y1="730.6" x2="568.98" y2="733.1" stroke="#000" stroke-width="1.3"/>
<line x1="596.5" y1="730.6" x2="596.5" y2="734.1" stroke="#000" stroke-width="1.3"/>
<text x="594.9" y="745.3" font-size="9.3" text-anchor="middle">50</text>
<text x="611.7" y="646.6" font-size="11.2">NS2S3S6S (8)</text>
<text x="611.7" y="665.9" font-size="11.2">NS2S6S (7)</text>
<text x="611.7" y="687.1" font-size="11.2">NS6S (6)</text>
<text x="611.7" y="713.7" font-size="11.2">NS2S (4)</text>
<text x="611.7" y="720.7" font-size="11.2">NS (3)</text>
<text x="611.7" y="738.7" font-size="11.2">0S (0)</text>
<text x="544" y="615.3" font-size="10.8" text-anchor="middle">PIXN</text>
<text x="467.6" y="678" font-size="10.8" text-anchor="middle" transform="rotate(-90 467.6 678)">Ab reduction (%)</text>
<text x="545.4" y="763.5" font-size="11" text-anchor="middle">Concentration(μM)</text>
<text x="438.8" y="601.3" font-size="22.5">i</text>
</g>
</svg>
</body>
</html>
